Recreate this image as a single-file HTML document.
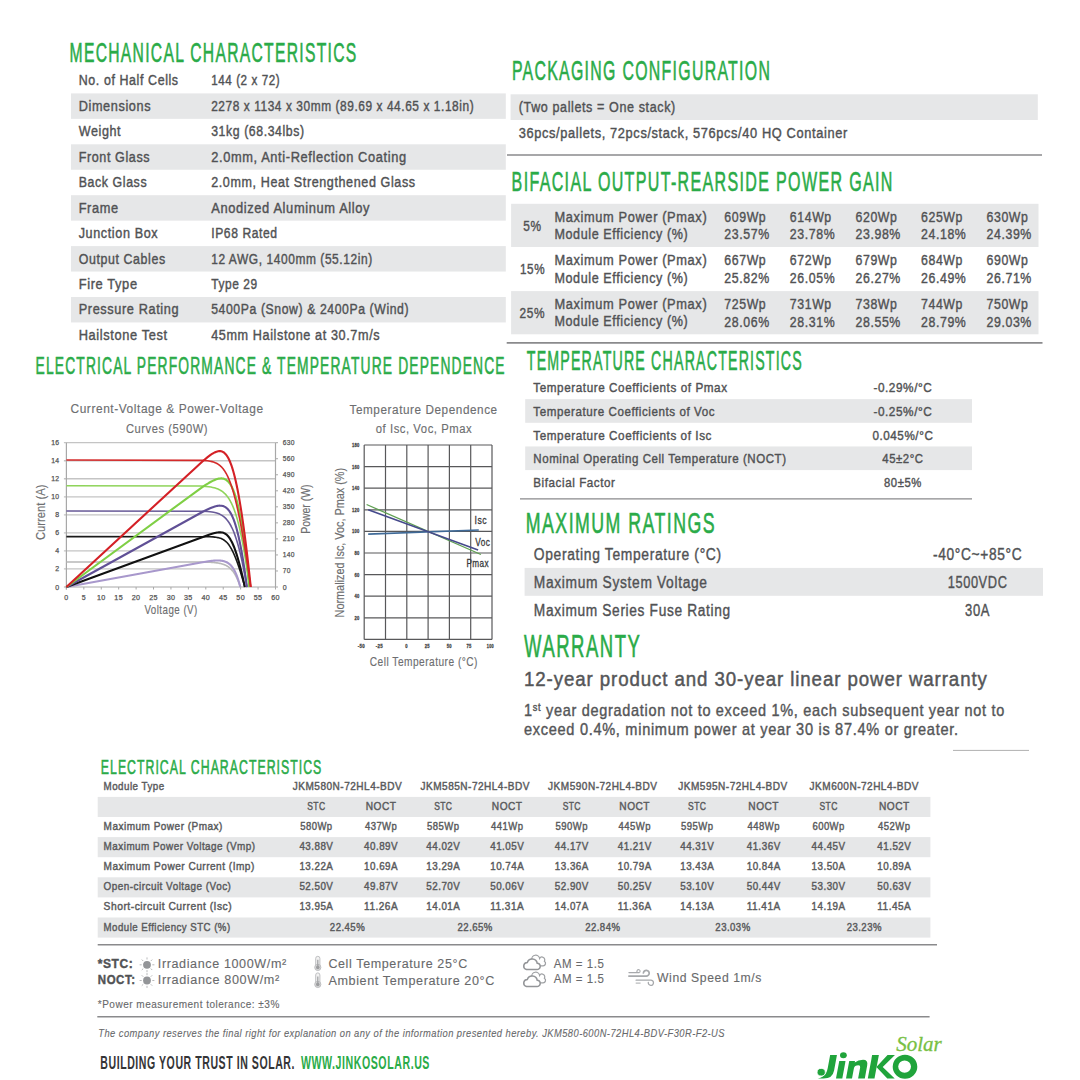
<!DOCTYPE html>
<html><head><meta charset="utf-8"><style>
html,body{margin:0;padding:0;background:#fff;width:1080px;height:1080px;overflow:hidden}
svg{display:block;font-family:"Liberation Sans",sans-serif}
</style></head><body>
<svg width="1080" height="1080" viewBox="0 0 1080 1080">
<text x="69.60" y="61.50" font-size="27.33" fill="#2aab48" stroke="#2aab48" stroke-width="0.6" letter-spacing="2.256" textLength="287.90" lengthAdjust="spacingAndGlyphs">MECHANICAL CHARACTERISTICS</text>
<text x="78.70" y="85.35" font-size="13.81" fill="#515254" stroke="#515254" stroke-width="0.4" letter-spacing="0.67" textLength="100.00" lengthAdjust="spacingAndGlyphs">No. of Half Cells</text>
<text x="211.20" y="85.35" font-size="13.81" fill="#515254" stroke="#515254" stroke-width="0.4" letter-spacing="0.67" textLength="69.00" lengthAdjust="spacingAndGlyphs">144 (2 x 72)</text>
<rect x="71.00" y="93.40" width="434.80" height="25.45" fill="#e6e7e8"/>
<text x="78.70" y="110.80" font-size="13.81" fill="#515254" stroke="#515254" stroke-width="0.4" letter-spacing="0.67" textLength="72.50" lengthAdjust="spacingAndGlyphs">Dimensions</text>
<text x="211.20" y="110.80" font-size="13.81" fill="#515254" stroke="#515254" stroke-width="0.4" letter-spacing="0.67" textLength="263.00" lengthAdjust="spacingAndGlyphs">2278 x 1134 x 30mm (89.69 x 44.65 x 1.18in)</text>
<text x="78.70" y="136.25" font-size="13.81" fill="#515254" stroke="#515254" stroke-width="0.4" letter-spacing="0.67" textLength="42.50" lengthAdjust="spacingAndGlyphs">Weight</text>
<text x="211.20" y="136.25" font-size="13.81" fill="#515254" stroke="#515254" stroke-width="0.4" letter-spacing="0.67" textLength="93.50" lengthAdjust="spacingAndGlyphs">31kg (68.34lbs)</text>
<rect x="71.00" y="144.30" width="434.80" height="25.45" fill="#e6e7e8"/>
<text x="78.70" y="161.70" font-size="13.81" fill="#515254" stroke="#515254" stroke-width="0.4" letter-spacing="0.67" textLength="71.50" lengthAdjust="spacingAndGlyphs">Front Glass</text>
<text x="211.20" y="161.70" font-size="13.81" fill="#515254" stroke="#515254" stroke-width="0.4" letter-spacing="0.67" textLength="195.50" lengthAdjust="spacingAndGlyphs">2.0mm, Anti-Reflection Coating</text>
<text x="78.70" y="187.15" font-size="13.81" fill="#515254" stroke="#515254" stroke-width="0.4" letter-spacing="0.67" textLength="68.50" lengthAdjust="spacingAndGlyphs">Back Glass</text>
<text x="211.20" y="187.15" font-size="13.81" fill="#515254" stroke="#515254" stroke-width="0.4" letter-spacing="0.67" textLength="204.50" lengthAdjust="spacingAndGlyphs">2.0mm, Heat Strengthened Glass</text>
<rect x="71.00" y="195.20" width="434.80" height="25.45" fill="#e6e7e8"/>
<text x="78.70" y="212.60" font-size="13.81" fill="#515254" stroke="#515254" stroke-width="0.4" letter-spacing="0.67" textLength="40.00" lengthAdjust="spacingAndGlyphs">Frame</text>
<text x="211.20" y="212.60" font-size="13.81" fill="#515254" stroke="#515254" stroke-width="0.4" letter-spacing="0.67" textLength="159.00" lengthAdjust="spacingAndGlyphs">Anodized Aluminum Alloy</text>
<text x="78.70" y="238.05" font-size="13.81" fill="#515254" stroke="#515254" stroke-width="0.4" letter-spacing="0.67" textLength="79.50" lengthAdjust="spacingAndGlyphs">Junction Box</text>
<text x="211.20" y="238.05" font-size="13.81" fill="#515254" stroke="#515254" stroke-width="0.4" letter-spacing="0.67" textLength="66.50" lengthAdjust="spacingAndGlyphs">IP68 Rated</text>
<rect x="71.00" y="246.10" width="434.80" height="25.45" fill="#e6e7e8"/>
<text x="78.70" y="263.50" font-size="13.81" fill="#515254" stroke="#515254" stroke-width="0.4" letter-spacing="0.67" textLength="87.00" lengthAdjust="spacingAndGlyphs">Output Cables</text>
<text x="211.20" y="263.50" font-size="13.81" fill="#515254" stroke="#515254" stroke-width="0.4" letter-spacing="0.67" textLength="161.50" lengthAdjust="spacingAndGlyphs">12 AWG, 1400mm (55.12in)</text>
<text x="78.70" y="288.95" font-size="13.81" fill="#515254" stroke="#515254" stroke-width="0.4" letter-spacing="0.67" textLength="59.00" lengthAdjust="spacingAndGlyphs">Fire Type</text>
<text x="211.20" y="288.95" font-size="13.81" fill="#515254" stroke="#515254" stroke-width="0.4" letter-spacing="0.67" textLength="46.50" lengthAdjust="spacingAndGlyphs">Type 29</text>
<rect x="71.00" y="297.00" width="434.80" height="25.45" fill="#e6e7e8"/>
<text x="78.70" y="314.40" font-size="13.81" fill="#515254" stroke="#515254" stroke-width="0.4" letter-spacing="0.67" textLength="100.50" lengthAdjust="spacingAndGlyphs">Pressure Rating</text>
<text x="211.20" y="314.40" font-size="13.81" fill="#515254" stroke="#515254" stroke-width="0.4" letter-spacing="0.67" textLength="198.00" lengthAdjust="spacingAndGlyphs">5400Pa (Snow) &amp; 2400Pa (Wind)</text>
<text x="78.70" y="339.85" font-size="13.81" fill="#515254" stroke="#515254" stroke-width="0.4" letter-spacing="0.67" textLength="89.00" lengthAdjust="spacingAndGlyphs">Hailstone Test</text>
<text x="211.20" y="339.85" font-size="13.81" fill="#515254" stroke="#515254" stroke-width="0.4" letter-spacing="0.67" textLength="169.00" lengthAdjust="spacingAndGlyphs">45mm Hailstone at 30.7m/s</text>
<text x="511.90" y="79.80" font-size="28.34" fill="#2aab48" stroke="#2aab48" stroke-width="0.6" letter-spacing="2.34" textLength="259.30" lengthAdjust="spacingAndGlyphs">PACKAGING CONFIGURATION</text>
<rect x="510.60" y="94.30" width="527.20" height="25.70" fill="#e6e7e8"/>
<text x="518.80" y="112.30" font-size="13.81" fill="#515254" stroke="#515254" stroke-width="0.4" letter-spacing="0.67" textLength="157.00" lengthAdjust="spacingAndGlyphs">(Two pallets = One stack)</text>
<text x="518.80" y="138.30" font-size="13.81" fill="#515254" stroke="#515254" stroke-width="0.4" letter-spacing="0.67" textLength="329.00" lengthAdjust="spacingAndGlyphs">36pcs/pallets, 72pcs/stack, 576pcs/40 HQ Container</text>
<line x1="507.00" y1="155.00" x2="1042.00" y2="155.00" stroke="#8a8a8c" stroke-width="1.6"/>
<text x="511.60" y="191.10" font-size="27.47" fill="#2aab48" stroke="#2aab48" stroke-width="0.6" letter-spacing="2.2680000000000007" textLength="382.10" lengthAdjust="spacingAndGlyphs">BIFACIAL OUTPUT-REARSIDE POWER GAIN</text>
<rect x="511.10" y="203.80" width="527.40" height="43.20" fill="#e6e7e8"/>
<text x="523.30" y="230.80" font-size="14.24" fill="#515254" stroke="#515254" stroke-width="0.4" letter-spacing="0.69" textLength="18.30" lengthAdjust="spacingAndGlyphs">5%</text>
<text x="554.40" y="221.80" font-size="14.24" fill="#515254" stroke="#515254" stroke-width="0.4" letter-spacing="0.69" textLength="152.90" lengthAdjust="spacingAndGlyphs">Maximum Power (Pmax)</text>
<text x="554.40" y="238.90" font-size="14.24" fill="#515254" stroke="#515254" stroke-width="0.4" letter-spacing="0.69" textLength="134.00" lengthAdjust="spacingAndGlyphs">Module Efficiency (%)</text>
<text x="724.30" y="221.70" font-size="14.24" fill="#515254" stroke="#515254" stroke-width="0.4" letter-spacing="0.69" textLength="42.00" lengthAdjust="spacingAndGlyphs">609Wp</text>
<text x="724.30" y="239.30" font-size="14.24" fill="#515254" stroke="#515254" stroke-width="0.4" letter-spacing="0.69" textLength="45.40" lengthAdjust="spacingAndGlyphs">23.57%</text>
<text x="789.80" y="221.70" font-size="14.24" fill="#515254" stroke="#515254" stroke-width="0.4" letter-spacing="0.69" textLength="42.00" lengthAdjust="spacingAndGlyphs">614Wp</text>
<text x="789.80" y="239.30" font-size="14.24" fill="#515254" stroke="#515254" stroke-width="0.4" letter-spacing="0.69" textLength="45.40" lengthAdjust="spacingAndGlyphs">23.78%</text>
<text x="855.50" y="221.70" font-size="14.24" fill="#515254" stroke="#515254" stroke-width="0.4" letter-spacing="0.69" textLength="42.00" lengthAdjust="spacingAndGlyphs">620Wp</text>
<text x="855.50" y="239.30" font-size="14.24" fill="#515254" stroke="#515254" stroke-width="0.4" letter-spacing="0.69" textLength="45.40" lengthAdjust="spacingAndGlyphs">23.98%</text>
<text x="921.00" y="221.70" font-size="14.24" fill="#515254" stroke="#515254" stroke-width="0.4" letter-spacing="0.69" textLength="42.00" lengthAdjust="spacingAndGlyphs">625Wp</text>
<text x="921.00" y="239.30" font-size="14.24" fill="#515254" stroke="#515254" stroke-width="0.4" letter-spacing="0.69" textLength="45.40" lengthAdjust="spacingAndGlyphs">24.18%</text>
<text x="986.50" y="221.70" font-size="14.24" fill="#515254" stroke="#515254" stroke-width="0.4" letter-spacing="0.69" textLength="42.00" lengthAdjust="spacingAndGlyphs">630Wp</text>
<text x="986.50" y="239.30" font-size="14.24" fill="#515254" stroke="#515254" stroke-width="0.4" letter-spacing="0.69" textLength="45.40" lengthAdjust="spacingAndGlyphs">24.39%</text>
<text x="520.00" y="274.45" font-size="14.24" fill="#515254" stroke="#515254" stroke-width="0.4" letter-spacing="0.69" textLength="25.10" lengthAdjust="spacingAndGlyphs">15%</text>
<text x="554.40" y="265.45" font-size="14.24" fill="#515254" stroke="#515254" stroke-width="0.4" letter-spacing="0.69" textLength="152.90" lengthAdjust="spacingAndGlyphs">Maximum Power (Pmax)</text>
<text x="554.40" y="282.55" font-size="14.24" fill="#515254" stroke="#515254" stroke-width="0.4" letter-spacing="0.69" textLength="134.00" lengthAdjust="spacingAndGlyphs">Module Efficiency (%)</text>
<text x="724.30" y="265.35" font-size="14.24" fill="#515254" stroke="#515254" stroke-width="0.4" letter-spacing="0.69" textLength="42.00" lengthAdjust="spacingAndGlyphs">667Wp</text>
<text x="724.30" y="282.95" font-size="14.24" fill="#515254" stroke="#515254" stroke-width="0.4" letter-spacing="0.69" textLength="45.40" lengthAdjust="spacingAndGlyphs">25.82%</text>
<text x="789.80" y="265.35" font-size="14.24" fill="#515254" stroke="#515254" stroke-width="0.4" letter-spacing="0.69" textLength="42.00" lengthAdjust="spacingAndGlyphs">672Wp</text>
<text x="789.80" y="282.95" font-size="14.24" fill="#515254" stroke="#515254" stroke-width="0.4" letter-spacing="0.69" textLength="45.40" lengthAdjust="spacingAndGlyphs">26.05%</text>
<text x="855.50" y="265.35" font-size="14.24" fill="#515254" stroke="#515254" stroke-width="0.4" letter-spacing="0.69" textLength="42.00" lengthAdjust="spacingAndGlyphs">679Wp</text>
<text x="855.50" y="282.95" font-size="14.24" fill="#515254" stroke="#515254" stroke-width="0.4" letter-spacing="0.69" textLength="45.40" lengthAdjust="spacingAndGlyphs">26.27%</text>
<text x="921.00" y="265.35" font-size="14.24" fill="#515254" stroke="#515254" stroke-width="0.4" letter-spacing="0.69" textLength="42.00" lengthAdjust="spacingAndGlyphs">684Wp</text>
<text x="921.00" y="282.95" font-size="14.24" fill="#515254" stroke="#515254" stroke-width="0.4" letter-spacing="0.69" textLength="45.40" lengthAdjust="spacingAndGlyphs">26.49%</text>
<text x="986.50" y="265.35" font-size="14.24" fill="#515254" stroke="#515254" stroke-width="0.4" letter-spacing="0.69" textLength="42.00" lengthAdjust="spacingAndGlyphs">690Wp</text>
<text x="986.50" y="282.95" font-size="14.24" fill="#515254" stroke="#515254" stroke-width="0.4" letter-spacing="0.69" textLength="45.40" lengthAdjust="spacingAndGlyphs">26.71%</text>
<rect x="511.10" y="291.10" width="527.40" height="43.20" fill="#e6e7e8"/>
<text x="519.60" y="318.10" font-size="14.24" fill="#515254" stroke="#515254" stroke-width="0.4" letter-spacing="0.69" textLength="25.50" lengthAdjust="spacingAndGlyphs">25%</text>
<text x="554.40" y="309.10" font-size="14.24" fill="#515254" stroke="#515254" stroke-width="0.4" letter-spacing="0.69" textLength="152.90" lengthAdjust="spacingAndGlyphs">Maximum Power (Pmax)</text>
<text x="554.40" y="326.20" font-size="14.24" fill="#515254" stroke="#515254" stroke-width="0.4" letter-spacing="0.69" textLength="134.00" lengthAdjust="spacingAndGlyphs">Module Efficiency (%)</text>
<text x="724.30" y="309.00" font-size="14.24" fill="#515254" stroke="#515254" stroke-width="0.4" letter-spacing="0.69" textLength="42.00" lengthAdjust="spacingAndGlyphs">725Wp</text>
<text x="724.30" y="326.60" font-size="14.24" fill="#515254" stroke="#515254" stroke-width="0.4" letter-spacing="0.69" textLength="45.40" lengthAdjust="spacingAndGlyphs">28.06%</text>
<text x="789.80" y="309.00" font-size="14.24" fill="#515254" stroke="#515254" stroke-width="0.4" letter-spacing="0.69" textLength="42.00" lengthAdjust="spacingAndGlyphs">731Wp</text>
<text x="789.80" y="326.60" font-size="14.24" fill="#515254" stroke="#515254" stroke-width="0.4" letter-spacing="0.69" textLength="45.40" lengthAdjust="spacingAndGlyphs">28.31%</text>
<text x="855.50" y="309.00" font-size="14.24" fill="#515254" stroke="#515254" stroke-width="0.4" letter-spacing="0.69" textLength="42.00" lengthAdjust="spacingAndGlyphs">738Wp</text>
<text x="855.50" y="326.60" font-size="14.24" fill="#515254" stroke="#515254" stroke-width="0.4" letter-spacing="0.69" textLength="45.40" lengthAdjust="spacingAndGlyphs">28.55%</text>
<text x="921.00" y="309.00" font-size="14.24" fill="#515254" stroke="#515254" stroke-width="0.4" letter-spacing="0.69" textLength="42.00" lengthAdjust="spacingAndGlyphs">744Wp</text>
<text x="921.00" y="326.60" font-size="14.24" fill="#515254" stroke="#515254" stroke-width="0.4" letter-spacing="0.69" textLength="45.40" lengthAdjust="spacingAndGlyphs">28.79%</text>
<text x="986.50" y="309.00" font-size="14.24" fill="#515254" stroke="#515254" stroke-width="0.4" letter-spacing="0.69" textLength="42.00" lengthAdjust="spacingAndGlyphs">750Wp</text>
<text x="986.50" y="326.60" font-size="14.24" fill="#515254" stroke="#515254" stroke-width="0.4" letter-spacing="0.69" textLength="45.40" lengthAdjust="spacingAndGlyphs">29.03%</text>
<line x1="506.70" y1="342.90" x2="1042.50" y2="342.90" stroke="#8a8a8c" stroke-width="1.6"/>
<text x="35.60" y="373.70" font-size="24.42" fill="#2aab48" stroke="#2aab48" stroke-width="0.6" letter-spacing="2.0160000000000013" textLength="470.10" lengthAdjust="spacingAndGlyphs">ELECTRICAL PERFORMANCE &amp; TEMPERATURE DEPENDENCE</text>
<text x="70.50" y="413.40" font-size="13.08" fill="#6d6e70" stroke="#6d6e70" stroke-width="0.15" letter-spacing="0.63" textLength="193.10" lengthAdjust="spacingAndGlyphs">Current-Voltage &amp; Power-Voltage</text>
<text x="126.00" y="432.70" font-size="13.08" fill="#6d6e70" stroke="#6d6e70" stroke-width="0.15" letter-spacing="0.63" textLength="82.00" lengthAdjust="spacingAndGlyphs">Curves (590W)</text>
<line x1="63.90" y1="587.00" x2="275.50" y2="587.00" stroke="#c4c4c4" stroke-width="1.3"/>
<line x1="63.90" y1="568.96" x2="275.50" y2="568.96" stroke="#c4c4c4" stroke-width="1.3"/>
<line x1="63.90" y1="550.92" x2="275.50" y2="550.92" stroke="#c4c4c4" stroke-width="1.3"/>
<line x1="63.90" y1="532.89" x2="275.50" y2="532.89" stroke="#c4c4c4" stroke-width="1.3"/>
<line x1="63.90" y1="514.85" x2="275.50" y2="514.85" stroke="#c4c4c4" stroke-width="1.3"/>
<line x1="63.90" y1="496.81" x2="275.50" y2="496.81" stroke="#c4c4c4" stroke-width="1.3"/>
<line x1="63.90" y1="478.77" x2="275.50" y2="478.77" stroke="#c4c4c4" stroke-width="1.3"/>
<line x1="63.90" y1="460.74" x2="275.50" y2="460.74" stroke="#c4c4c4" stroke-width="1.3"/>
<line x1="63.90" y1="442.70" x2="275.50" y2="442.70" stroke="#c4c4c4" stroke-width="1.3"/>
<line x1="66.40" y1="442.70" x2="66.40" y2="589.50" stroke="#a8a8a8" stroke-width="1.2"/>
<line x1="275.50" y1="442.70" x2="275.50" y2="587.00" stroke="#a8a8a8" stroke-width="1.2"/>
<line x1="275.50" y1="587.00" x2="278.00" y2="587.00" stroke="#a8a8a8" stroke-width="1.0"/>
<line x1="275.50" y1="570.97" x2="278.00" y2="570.97" stroke="#a8a8a8" stroke-width="1.0"/>
<line x1="275.50" y1="554.93" x2="278.00" y2="554.93" stroke="#a8a8a8" stroke-width="1.0"/>
<line x1="275.50" y1="538.90" x2="278.00" y2="538.90" stroke="#a8a8a8" stroke-width="1.0"/>
<line x1="275.50" y1="522.87" x2="278.00" y2="522.87" stroke="#a8a8a8" stroke-width="1.0"/>
<line x1="275.50" y1="506.83" x2="278.00" y2="506.83" stroke="#a8a8a8" stroke-width="1.0"/>
<line x1="275.50" y1="490.80" x2="278.00" y2="490.80" stroke="#a8a8a8" stroke-width="1.0"/>
<line x1="275.50" y1="474.77" x2="278.00" y2="474.77" stroke="#a8a8a8" stroke-width="1.0"/>
<line x1="275.50" y1="458.73" x2="278.00" y2="458.73" stroke="#a8a8a8" stroke-width="1.0"/>
<line x1="275.50" y1="442.70" x2="278.00" y2="442.70" stroke="#a8a8a8" stroke-width="1.0"/>
<line x1="66.40" y1="587.00" x2="66.40" y2="589.50" stroke="#a8a8a8" stroke-width="1.0"/>
<text x="66.40" y="599.90" font-size="7.12" fill="#555" text-anchor="middle" stroke="#555" stroke-width="0.25" letter-spacing="0.3" textLength="4.20" lengthAdjust="spacingAndGlyphs">0</text>
<line x1="83.83" y1="587.00" x2="83.83" y2="589.50" stroke="#a8a8a8" stroke-width="1.0"/>
<text x="83.83" y="599.90" font-size="7.12" fill="#555" text-anchor="middle" stroke="#555" stroke-width="0.25" letter-spacing="0.3" textLength="4.20" lengthAdjust="spacingAndGlyphs">5</text>
<line x1="101.25" y1="587.00" x2="101.25" y2="589.50" stroke="#a8a8a8" stroke-width="1.0"/>
<text x="101.25" y="599.90" font-size="7.12" fill="#555" text-anchor="middle" stroke="#555" stroke-width="0.25" letter-spacing="0.3" textLength="8.60" lengthAdjust="spacingAndGlyphs">10</text>
<line x1="118.68" y1="587.00" x2="118.68" y2="589.50" stroke="#a8a8a8" stroke-width="1.0"/>
<text x="118.68" y="599.90" font-size="7.12" fill="#555" text-anchor="middle" stroke="#555" stroke-width="0.25" letter-spacing="0.3" textLength="8.60" lengthAdjust="spacingAndGlyphs">15</text>
<line x1="136.10" y1="587.00" x2="136.10" y2="589.50" stroke="#a8a8a8" stroke-width="1.0"/>
<text x="136.10" y="599.90" font-size="7.12" fill="#555" text-anchor="middle" stroke="#555" stroke-width="0.25" letter-spacing="0.3" textLength="8.60" lengthAdjust="spacingAndGlyphs">20</text>
<line x1="153.53" y1="587.00" x2="153.53" y2="589.50" stroke="#a8a8a8" stroke-width="1.0"/>
<text x="153.53" y="599.90" font-size="7.12" fill="#555" text-anchor="middle" stroke="#555" stroke-width="0.25" letter-spacing="0.3" textLength="8.60" lengthAdjust="spacingAndGlyphs">25</text>
<line x1="170.95" y1="587.00" x2="170.95" y2="589.50" stroke="#a8a8a8" stroke-width="1.0"/>
<text x="170.95" y="599.90" font-size="7.12" fill="#555" text-anchor="middle" stroke="#555" stroke-width="0.25" letter-spacing="0.3" textLength="8.60" lengthAdjust="spacingAndGlyphs">30</text>
<line x1="188.38" y1="587.00" x2="188.38" y2="589.50" stroke="#a8a8a8" stroke-width="1.0"/>
<text x="188.38" y="599.90" font-size="7.12" fill="#555" text-anchor="middle" stroke="#555" stroke-width="0.25" letter-spacing="0.3" textLength="8.60" lengthAdjust="spacingAndGlyphs">35</text>
<line x1="205.80" y1="587.00" x2="205.80" y2="589.50" stroke="#a8a8a8" stroke-width="1.0"/>
<text x="205.80" y="599.90" font-size="7.12" fill="#555" text-anchor="middle" stroke="#555" stroke-width="0.25" letter-spacing="0.3" textLength="8.60" lengthAdjust="spacingAndGlyphs">40</text>
<line x1="223.22" y1="587.00" x2="223.22" y2="589.50" stroke="#a8a8a8" stroke-width="1.0"/>
<text x="223.22" y="599.90" font-size="7.12" fill="#555" text-anchor="middle" stroke="#555" stroke-width="0.25" letter-spacing="0.3" textLength="8.60" lengthAdjust="spacingAndGlyphs">45</text>
<line x1="240.65" y1="587.00" x2="240.65" y2="589.50" stroke="#a8a8a8" stroke-width="1.0"/>
<text x="240.65" y="599.90" font-size="7.12" fill="#555" text-anchor="middle" stroke="#555" stroke-width="0.25" letter-spacing="0.3" textLength="8.60" lengthAdjust="spacingAndGlyphs">50</text>
<line x1="258.07" y1="587.00" x2="258.07" y2="589.50" stroke="#a8a8a8" stroke-width="1.0"/>
<text x="258.07" y="599.90" font-size="7.12" fill="#555" text-anchor="middle" stroke="#555" stroke-width="0.25" letter-spacing="0.3" textLength="8.60" lengthAdjust="spacingAndGlyphs">55</text>
<line x1="275.50" y1="587.00" x2="275.50" y2="589.50" stroke="#a8a8a8" stroke-width="1.0"/>
<text x="275.50" y="599.90" font-size="7.12" fill="#555" text-anchor="middle" stroke="#555" stroke-width="0.25" letter-spacing="0.3" textLength="8.60" lengthAdjust="spacingAndGlyphs">60</text>
<text x="59.40" y="589.50" font-size="7.12" fill="#555" text-anchor="end" stroke="#555" stroke-width="0.25" letter-spacing="0.3" textLength="4.20" lengthAdjust="spacingAndGlyphs">0</text>
<text x="59.40" y="571.46" font-size="7.12" fill="#555" text-anchor="end" stroke="#555" stroke-width="0.25" letter-spacing="0.3" textLength="4.20" lengthAdjust="spacingAndGlyphs">2</text>
<text x="59.40" y="553.42" font-size="7.12" fill="#555" text-anchor="end" stroke="#555" stroke-width="0.25" letter-spacing="0.3" textLength="4.20" lengthAdjust="spacingAndGlyphs">4</text>
<text x="59.40" y="535.39" font-size="7.12" fill="#555" text-anchor="end" stroke="#555" stroke-width="0.25" letter-spacing="0.3" textLength="4.20" lengthAdjust="spacingAndGlyphs">6</text>
<text x="59.40" y="517.35" font-size="7.12" fill="#555" text-anchor="end" stroke="#555" stroke-width="0.25" letter-spacing="0.3" textLength="4.20" lengthAdjust="spacingAndGlyphs">8</text>
<text x="59.40" y="499.31" font-size="7.12" fill="#555" text-anchor="end" stroke="#555" stroke-width="0.25" letter-spacing="0.3" textLength="8.20" lengthAdjust="spacingAndGlyphs">10</text>
<text x="59.40" y="481.27" font-size="7.12" fill="#555" text-anchor="end" stroke="#555" stroke-width="0.25" letter-spacing="0.3" textLength="8.20" lengthAdjust="spacingAndGlyphs">12</text>
<text x="59.40" y="463.24" font-size="7.12" fill="#555" text-anchor="end" stroke="#555" stroke-width="0.25" letter-spacing="0.3" textLength="8.20" lengthAdjust="spacingAndGlyphs">14</text>
<text x="59.40" y="445.20" font-size="7.12" fill="#555" text-anchor="end" stroke="#555" stroke-width="0.25" letter-spacing="0.3" textLength="8.20" lengthAdjust="spacingAndGlyphs">16</text>
<text x="282.80" y="589.50" font-size="7.12" fill="#555" stroke="#555" stroke-width="0.25" letter-spacing="0.3" textLength="4.20" lengthAdjust="spacingAndGlyphs">0</text>
<text x="282.80" y="573.47" font-size="7.12" fill="#555" stroke="#555" stroke-width="0.25" letter-spacing="0.3" textLength="8.00" lengthAdjust="spacingAndGlyphs">70</text>
<text x="282.80" y="557.43" font-size="7.12" fill="#555" stroke="#555" stroke-width="0.25" letter-spacing="0.3" textLength="12.00" lengthAdjust="spacingAndGlyphs">140</text>
<text x="282.80" y="541.40" font-size="7.12" fill="#555" stroke="#555" stroke-width="0.25" letter-spacing="0.3" textLength="12.00" lengthAdjust="spacingAndGlyphs">210</text>
<text x="282.80" y="525.37" font-size="7.12" fill="#555" stroke="#555" stroke-width="0.25" letter-spacing="0.3" textLength="12.00" lengthAdjust="spacingAndGlyphs">280</text>
<text x="282.80" y="509.33" font-size="7.12" fill="#555" stroke="#555" stroke-width="0.25" letter-spacing="0.3" textLength="12.00" lengthAdjust="spacingAndGlyphs">350</text>
<text x="282.80" y="493.30" font-size="7.12" fill="#555" stroke="#555" stroke-width="0.25" letter-spacing="0.3" textLength="12.00" lengthAdjust="spacingAndGlyphs">420</text>
<text x="282.80" y="477.27" font-size="7.12" fill="#555" stroke="#555" stroke-width="0.25" letter-spacing="0.3" textLength="12.00" lengthAdjust="spacingAndGlyphs">490</text>
<text x="282.80" y="461.23" font-size="7.12" fill="#555" stroke="#555" stroke-width="0.25" letter-spacing="0.3" textLength="12.00" lengthAdjust="spacingAndGlyphs">560</text>
<text x="282.80" y="445.20" font-size="7.12" fill="#555" stroke="#555" stroke-width="0.25" letter-spacing="0.3" textLength="12.00" lengthAdjust="spacingAndGlyphs">630</text>
<text x="144.40" y="613.60" font-size="12.35" fill="#6d6e70" stroke="#6d6e70" stroke-width="0.15" letter-spacing="0.6" textLength="53.40" lengthAdjust="spacingAndGlyphs">Voltage (V)</text>
<text transform="translate(45.2,512.2) rotate(-90)" font-size="12.35" fill="#6d6e70" stroke="#6d6e70" stroke-width="0.15" text-anchor="middle" textLength="55.6" lengthAdjust="spacingAndGlyphs">Current (A)</text>
<text transform="translate(310.2,509.1) rotate(-90)" font-size="12.35" fill="#6d6e70" stroke="#6d6e70" stroke-width="0.15" text-anchor="middle" textLength="49.2" lengthAdjust="spacingAndGlyphs">Power (W)</text>
<path d="M66.40,561.93 L201.07,562.01 L205.66,562.10 L208.35,562.18 L210.26,562.26 L211.74,562.35 L212.95,562.43 L213.98,562.51 L214.87,562.60 L215.65,562.68 L216.99,562.85 L218.11,563.01 L219.07,563.18 L219.90,563.35 L220.65,563.52 L221.32,563.68 L222.22,563.93 L223.02,564.18 L223.73,564.44 L224.38,564.69 L224.97,564.94 L225.68,565.27 L226.33,565.61 L226.93,565.94 L227.48,566.27 L227.99,566.61 L228.47,566.94 L229.02,567.36 L229.54,567.78 L230.02,568.20 L230.47,568.61 L230.90,569.03 L231.30,569.45 L231.68,569.87 L232.12,570.37 L232.53,570.87 L232.92,571.37 L233.29,571.87 L233.65,572.37 L233.99,572.88 L234.31,573.38 L234.62,573.88 L234.93,574.38 L235.26,574.97 L235.59,575.55 L235.90,576.14 L236.20,576.72 L236.50,577.31 L236.78,577.89 L237.05,578.48 L237.31,579.06 L237.57,579.65 L237.82,580.23 L238.06,580.82 L238.30,581.40 L238.53,581.99 L238.75,582.57 L238.97,583.16 L239.22,583.82 L239.46,584.49 L239.69,585.16 L239.92,585.83 L240.14,586.50 L240.30,587.00" fill="none" stroke="#b8b8b8" stroke-width="1.6" stroke-linejoin="round"/>
<path d="M66.40,587.00 L201.07,562.48 L205.66,561.72 L208.35,561.32 L210.26,561.07 L211.74,560.89 L212.95,560.76 L213.98,560.66 L214.87,560.60 L215.65,560.55 L216.99,560.49 L218.11,560.48 L219.07,560.50 L219.90,560.54 L220.65,560.60 L221.64,560.72 L222.50,560.86 L223.26,561.01 L223.95,561.19 L224.58,561.37 L225.33,561.64 L226.02,561.92 L226.64,562.21 L227.21,562.52 L227.74,562.83 L228.23,563.15 L228.80,563.56 L229.33,563.98 L229.83,564.41 L230.29,564.84 L230.73,565.28 L231.14,565.73 L231.53,566.18 L231.90,566.64 L232.26,567.10 L232.59,567.57 L232.98,568.13 L233.35,568.70 L233.70,569.27 L234.04,569.85 L234.36,570.43 L234.68,571.01 L234.98,571.60 L235.26,572.19 L235.54,572.78 L235.81,573.38 L236.08,573.98 L236.33,574.58 L236.58,575.18 L236.82,575.79 L237.05,576.40 L237.28,577.01 L237.50,577.62 L237.71,578.24 L237.92,578.85 L238.13,579.47 L238.33,580.09 L238.53,580.71 L238.72,581.33 L238.91,581.96 L239.10,582.58 L239.28,583.21 L239.46,583.84 L239.63,584.47 L239.80,585.10 L239.97,585.73 L240.17,586.47 L240.30,587.00" fill="none" stroke="#a898cc" stroke-width="2.1" stroke-linejoin="round"/>
<path d="M66.40,536.59 L209.69,536.75 L212.86,536.92 L214.73,537.09 L216.06,537.26 L217.11,537.43 L217.96,537.59 L218.69,537.76 L219.33,537.93 L220.40,538.27 L221.29,538.60 L222.05,538.94 L222.72,539.27 L223.31,539.61 L223.85,539.95 L224.35,540.28 L225.02,540.79 L225.63,541.29 L226.18,541.79 L226.69,542.30 L227.17,542.80 L227.62,543.31 L228.04,543.81 L228.44,544.32 L228.82,544.82 L229.18,545.32 L229.53,545.83 L229.86,546.33 L230.18,546.84 L230.49,547.34 L230.79,547.84 L231.18,548.52 L231.55,549.19 L231.91,549.86 L232.26,550.53 L232.60,551.21 L232.93,551.88 L233.25,552.55 L233.56,553.22 L233.86,553.89 L234.16,554.57 L234.45,555.24 L234.73,555.91 L235.01,556.58 L235.29,557.26 L235.56,557.93 L235.82,558.60 L236.08,559.27 L236.34,559.94 L236.59,560.62 L236.84,561.29 L237.09,561.96 L237.33,562.63 L237.57,563.31 L237.81,563.98 L238.04,564.65 L238.27,565.32 L238.50,565.99 L238.73,566.67 L238.95,567.34 L239.18,568.01 L239.40,568.68 L239.61,569.35 L239.83,570.03 L240.05,570.70 L240.26,571.37 L240.47,572.04 L240.68,572.72 L240.89,573.39 L241.09,574.06 L241.30,574.73 L241.50,575.40 L241.70,576.08 L241.90,576.75 L242.10,577.42 L242.30,578.09 L242.50,578.77 L242.70,579.44 L242.89,580.11 L243.08,580.78 L243.28,581.45 L243.47,582.13 L243.66,582.80 L243.85,583.47 L244.04,584.14 L244.23,584.82 L244.41,585.49 L244.60,586.16 L244.79,586.83 L244.83,587.00" fill="none" stroke="#1a1a1a" stroke-width="1.6" stroke-linejoin="round"/>
<path d="M66.40,587.00 L209.69,534.53 L212.86,533.55 L214.73,533.05 L216.06,532.75 L217.11,532.55 L217.96,532.43 L218.69,532.35 L219.89,532.30 L220.87,532.33 L221.68,532.42 L222.39,532.55 L223.31,532.81 L224.11,533.12 L224.80,533.46 L225.43,533.83 L226.00,534.23 L226.53,534.64 L227.01,535.07 L227.47,535.52 L227.90,535.97 L228.31,536.44 L228.69,536.91 L229.06,537.40 L229.41,537.89 L229.75,538.39 L230.08,538.89 L230.39,539.40 L230.69,539.92 L230.99,540.44 L231.27,540.96 L231.55,541.49 L231.82,542.03 L232.09,542.56 L232.43,543.28 L232.76,544.01 L233.09,544.74 L233.40,545.48 L233.71,546.23 L234.01,546.97 L234.30,547.73 L234.59,548.48 L234.87,549.24 L235.15,550.01 L235.42,550.78 L235.69,551.55 L235.95,552.32 L236.21,553.10 L236.47,553.88 L236.72,554.67 L236.96,555.46 L237.21,556.25 L237.45,557.04 L237.69,557.84 L237.92,558.64 L238.16,559.45 L238.39,560.25 L238.62,561.06 L238.84,561.87 L239.06,562.68 L239.29,563.50 L239.51,564.32 L239.72,565.14 L239.94,565.96 L240.15,566.79 L240.36,567.61 L240.57,568.44 L240.78,569.27 L240.99,570.11 L241.20,570.95 L241.40,571.78 L241.60,572.62 L241.80,573.47 L242.00,574.31 L242.20,575.16 L242.40,576.01 L242.60,576.86 L242.79,577.71 L242.99,578.57 L243.18,579.42 L243.37,580.28 L243.56,581.14 L243.76,582.00 L243.94,582.87 L244.13,583.74 L244.32,584.60 L244.51,585.47 L244.69,586.34 L244.83,587.00" fill="none" stroke="#111111" stroke-width="2.1" stroke-linejoin="round"/>
<path d="M66.40,511.06 L202.79,511.32 L207.41,511.57 L210.11,511.82 L212.04,512.07 L213.54,512.33 L214.76,512.58 L215.81,512.83 L216.71,513.09 L217.51,513.34 L218.23,513.59 L218.88,513.85 L219.48,514.10 L220.03,514.35 L221.02,514.86 L221.89,515.37 L222.67,515.87 L223.38,516.38 L224.02,516.88 L224.62,517.39 L225.17,517.90 L225.69,518.40 L226.17,518.91 L226.63,519.42 L227.06,519.92 L227.47,520.43 L227.86,520.93 L228.23,521.44 L228.59,521.95 L228.94,522.45 L229.27,522.96 L229.59,523.47 L229.89,523.97 L230.19,524.48 L230.62,525.24 L231.03,526.00 L231.42,526.76 L231.80,527.52 L232.16,528.27 L232.51,529.03 L232.85,529.79 L233.17,530.55 L233.49,531.31 L233.80,532.07 L234.10,532.83 L234.39,533.59 L234.67,534.35 L234.95,535.11 L235.22,535.87 L235.48,536.63 L235.74,537.39 L235.99,538.15 L236.24,538.91 L236.48,539.67 L236.72,540.42 L236.95,541.18 L237.18,541.94 L237.40,542.70 L237.62,543.46 L237.84,544.22 L238.05,544.98 L238.27,545.74 L238.47,546.50 L238.68,547.26 L238.88,548.02 L239.08,548.78 L239.27,549.54 L239.47,550.30 L239.66,551.06 L239.84,551.82 L240.03,552.57 L240.21,553.33 L240.40,554.09 L240.58,554.85 L240.75,555.61 L240.93,556.37 L241.10,557.13 L241.28,557.89 L241.45,558.65 L241.61,559.41 L241.78,560.17 L241.95,560.93 L242.11,561.69 L242.27,562.45 L242.43,563.21 L242.59,563.97 L242.75,564.72 L242.91,565.48 L243.06,566.24 L243.22,567.00 L243.37,567.76 L243.52,568.52 L243.67,569.28 L243.82,570.04 L243.97,570.80 L244.12,571.56 L244.27,572.32 L244.41,573.08 L244.56,573.84 L244.70,574.60 L244.84,575.36 L244.98,576.12 L245.12,576.87 L245.26,577.63 L245.40,578.39 L245.54,579.15 L245.68,579.91 L245.81,580.67 L245.95,581.43 L246.09,582.19 L246.22,582.95 L246.35,583.71 L246.49,584.47 L246.62,585.23 L246.75,585.99 L246.88,586.75 L246.92,587.00" fill="none" stroke="#685a98" stroke-width="1.6" stroke-linejoin="round"/>
<path d="M66.40,587.00 L202.79,511.77 L207.41,509.49 L210.11,508.27 L212.04,507.48 L213.54,506.93 L214.76,506.54 L215.81,506.25 L216.71,506.04 L217.51,505.88 L218.23,505.78 L219.48,505.67 L220.55,505.68 L221.47,505.76 L222.29,505.90 L223.03,506.10 L223.71,506.33 L224.33,506.60 L224.90,506.89 L225.43,507.21 L225.93,507.54 L226.40,507.90 L226.85,508.27 L227.27,508.66 L227.67,509.06 L228.23,509.68 L228.77,510.33 L229.27,510.99 L229.74,511.67 L230.19,512.37 L230.62,513.09 L231.03,513.81 L231.42,514.55 L231.80,515.30 L232.16,516.06 L232.51,516.83 L232.85,517.61 L233.17,518.40 L233.49,519.19 L233.80,519.99 L234.10,520.80 L234.39,521.62 L234.67,522.44 L234.95,523.26 L235.22,524.10 L235.48,524.93 L235.74,525.78 L235.99,526.62 L236.24,527.47 L236.48,528.33 L236.72,529.19 L236.95,530.06 L237.18,530.93 L237.40,531.80 L237.62,532.67 L237.84,533.55 L238.05,534.44 L238.27,535.32 L238.47,536.21 L238.68,537.11 L238.88,538.00 L239.08,538.90 L239.27,539.80 L239.47,540.71 L239.66,541.62 L239.84,542.53 L240.03,543.44 L240.21,544.36 L240.40,545.27 L240.58,546.20 L240.75,547.12 L240.93,548.04 L241.10,548.97 L241.28,549.90 L241.45,550.84 L241.61,551.77 L241.78,552.71 L241.95,553.65 L242.11,554.59 L242.27,555.53 L242.43,556.48 L242.59,557.42 L242.75,558.37 L242.91,559.32 L243.06,560.28 L243.22,561.23 L243.37,562.19 L243.52,563.15 L243.67,564.11 L243.82,565.07 L243.97,566.04 L244.12,567.00 L244.27,567.97 L244.41,568.94 L244.56,569.91 L244.70,570.88 L244.84,571.86 L244.98,572.83 L245.12,573.81 L245.26,574.79 L245.40,575.77 L245.54,576.76 L245.68,577.74 L245.81,578.73 L245.95,579.71 L246.09,580.70 L246.22,581.69 L246.35,582.68 L246.49,583.68 L246.62,584.67 L246.75,585.67 L246.88,586.67 L246.92,587.00" fill="none" stroke="#605096" stroke-width="2.1" stroke-linejoin="round"/>
<path d="M66.40,485.72 L200.25,486.06 L205.58,486.39 L208.71,486.73 L210.93,487.07 L212.66,487.41 L214.08,487.75 L215.28,488.08 L216.32,488.42 L217.24,488.76 L218.06,489.10 L218.81,489.43 L219.50,489.77 L220.13,490.11 L220.72,490.45 L221.26,490.78 L221.78,491.12 L222.26,491.46 L223.15,492.13 L223.95,492.81 L224.68,493.48 L225.36,494.16 L225.99,494.83 L226.57,495.51 L227.12,496.19 L227.63,496.86 L228.12,497.54 L228.58,498.21 L229.02,498.89 L229.44,499.56 L229.84,500.24 L230.23,500.91 L230.60,501.59 L230.95,502.26 L231.29,502.94 L231.63,503.61 L231.95,504.29 L232.25,504.96 L232.56,505.64 L232.85,506.31 L233.13,506.99 L233.41,507.66 L233.67,508.34 L233.94,509.01 L234.19,509.69 L234.44,510.36 L234.68,511.04 L234.92,511.71 L235.15,512.39 L235.38,513.07 L235.60,513.74 L235.82,514.42 L236.04,515.09 L236.25,515.77 L236.45,516.44 L236.66,517.12 L236.86,517.79 L237.05,518.47 L237.24,519.14 L237.43,519.82 L237.62,520.49 L237.80,521.17 L237.98,521.84 L238.16,522.52 L238.34,523.19 L238.51,523.87 L238.68,524.54 L238.85,525.22 L239.01,525.89 L239.18,526.57 L239.34,527.24 L239.50,527.92 L239.66,528.59 L239.81,529.27 L239.97,529.95 L240.12,530.62 L240.27,531.30 L240.42,531.97 L240.57,532.65 L240.71,533.32 L240.86,534.00 L241.00,534.67 L241.14,535.35 L241.28,536.02 L241.42,536.70 L241.55,537.37 L241.69,538.05 L241.82,538.72 L241.96,539.40 L242.09,540.07 L242.22,540.75 L242.35,541.42 L242.48,542.10 L242.60,542.77 L242.73,543.45 L242.86,544.12 L243.04,545.14 L243.22,546.15 L243.41,547.16 L243.59,548.18 L243.76,549.19 L243.94,550.20 L244.11,551.21 L244.28,552.23 L244.45,553.24 L244.62,554.25 L244.79,555.27 L244.95,556.28 L245.12,557.29 L245.28,558.30 L245.44,559.32 L245.60,560.33 L245.75,561.34 L245.91,562.36 L246.07,563.37 L246.22,564.38 L246.37,565.39 L246.52,566.41 L246.67,567.42 L246.82,568.43 L246.97,569.44 L247.11,570.46 L247.26,571.47 L247.40,572.48 L247.55,573.50 L247.69,574.51 L247.83,575.52 L247.97,576.53 L248.11,577.55 L248.25,578.56 L248.38,579.57 L248.52,580.59 L248.65,581.60 L248.79,582.61 L248.92,583.62 L249.06,584.64 L249.19,585.65 L249.32,586.66 L249.36,587.00" fill="none" stroke="#8fd45a" stroke-width="1.6" stroke-linejoin="round"/>
<path d="M66.40,587.00 L200.25,488.54 L205.58,484.96 L208.71,483.02 L210.93,481.75 L212.66,480.85 L214.08,480.18 L215.28,479.68 L216.32,479.30 L217.24,479.01 L218.06,478.79 L218.81,478.63 L220.13,478.45 L221.26,478.41 L222.26,478.48 L223.15,478.63 L223.95,478.85 L224.68,479.13 L225.36,479.45 L225.99,479.81 L226.57,480.21 L227.12,480.64 L227.63,481.09 L228.12,481.56 L228.58,482.06 L229.02,482.58 L229.44,483.11 L229.84,483.66 L230.23,484.22 L230.60,484.80 L230.95,485.39 L231.29,485.98 L231.63,486.60 L231.95,487.22 L232.25,487.84 L232.56,488.48 L232.85,489.13 L233.13,489.78 L233.41,490.44 L233.67,491.11 L233.94,491.79 L234.19,492.47 L234.44,493.15 L234.68,493.85 L234.92,494.54 L235.15,495.25 L235.38,495.95 L235.60,496.67 L235.82,497.38 L236.04,498.10 L236.25,498.83 L236.45,499.56 L236.66,500.29 L236.86,501.03 L237.05,501.77 L237.24,502.52 L237.43,503.26 L237.62,504.01 L237.80,504.77 L237.98,505.53 L238.16,506.29 L238.34,507.05 L238.51,507.82 L238.68,508.59 L238.85,509.36 L239.01,510.13 L239.18,510.91 L239.34,511.69 L239.50,512.47 L239.66,513.26 L239.81,514.04 L239.97,514.83 L240.12,515.62 L240.27,516.42 L240.42,517.21 L240.57,518.01 L240.71,518.81 L240.86,519.61 L241.00,520.42 L241.14,521.22 L241.28,522.03 L241.42,522.84 L241.55,523.65 L241.69,524.47 L241.82,525.28 L241.96,526.10 L242.09,526.92 L242.22,527.74 L242.35,528.56 L242.48,529.39 L242.60,530.21 L242.73,531.04 L242.86,531.87 L242.98,532.70 L243.10,533.53 L243.22,534.36 L243.35,535.20 L243.47,536.03 L243.59,536.87 L243.70,537.71 L243.82,538.55 L243.94,539.39 L244.05,540.23 L244.17,541.08 L244.28,541.92 L244.40,542.77 L244.51,543.62 L244.62,544.47 L244.73,545.32 L244.84,546.17 L244.95,547.02 L245.06,547.88 L245.17,548.74 L245.28,549.59 L245.39,550.45 L245.49,551.31 L245.60,552.17 L245.70,553.03 L245.81,553.90 L245.91,554.76 L246.01,555.63 L246.12,556.49 L246.22,557.36 L246.32,558.23 L246.42,559.10 L246.52,559.97 L246.62,560.84 L246.72,561.71 L246.82,562.59 L246.92,563.46 L247.02,564.34 L247.11,565.21 L247.21,566.09 L247.31,566.97 L247.40,567.85 L247.50,568.73 L247.59,569.61 L247.69,570.50 L247.78,571.38 L247.87,572.27 L247.97,573.15 L248.06,574.04 L248.15,574.93 L248.25,575.82 L248.34,576.70 L248.43,577.60 L248.52,578.49 L248.61,579.38 L248.70,580.27 L248.79,581.17 L248.88,582.06 L248.97,582.96 L249.06,583.85 L249.14,584.75 L249.23,585.65 L249.32,586.55 L249.36,587.00" fill="none" stroke="#7fcf45" stroke-width="2.1" stroke-linejoin="round"/>
<path d="M66.40,459.93 L203.23,460.35 L207.62,460.77 L210.20,461.20 L212.05,461.62 L213.48,462.04 L214.67,462.47 L215.67,462.89 L216.55,463.31 L217.33,463.74 L218.03,464.16 L218.67,464.59 L219.25,465.01 L219.79,465.43 L220.30,465.86 L220.77,466.28 L221.21,466.70 L221.63,467.13 L222.03,467.55 L222.41,467.97 L223.12,468.82 L223.76,469.67 L224.37,470.52 L224.93,471.36 L225.45,472.21 L225.95,473.06 L226.42,473.90 L226.87,474.75 L227.30,475.60 L227.71,476.45 L228.10,477.29 L228.47,478.14 L228.84,478.99 L229.19,479.83 L229.53,480.68 L229.86,481.53 L230.18,482.38 L230.49,483.22 L230.79,484.07 L231.09,484.92 L231.38,485.76 L231.66,486.61 L231.93,487.46 L232.20,488.31 L232.46,489.15 L232.72,490.00 L232.97,490.85 L233.22,491.69 L233.47,492.54 L233.70,493.39 L233.94,494.24 L234.17,495.08 L234.40,495.93 L234.62,496.78 L234.85,497.62 L235.06,498.47 L235.28,499.32 L235.49,500.17 L235.70,501.01 L235.91,501.86 L236.11,502.71 L236.31,503.55 L236.51,504.40 L236.71,505.25 L236.90,506.10 L237.10,506.94 L237.29,507.79 L237.47,508.64 L237.66,509.48 L237.85,510.33 L238.03,511.18 L238.21,512.03 L238.39,512.87 L238.57,513.72 L238.74,514.57 L238.92,515.41 L239.09,516.26 L239.27,517.11 L239.44,517.96 L239.61,518.80 L239.77,519.65 L239.94,520.50 L240.11,521.35 L240.27,522.19 L240.43,523.04 L240.60,523.89 L240.76,524.73 L240.92,525.58 L241.08,526.43 L241.24,527.28 L241.39,528.12 L241.55,528.97 L241.70,529.82 L241.86,530.66 L242.01,531.51 L242.16,532.36 L242.31,533.21 L242.47,534.05 L242.61,534.90 L242.76,535.75 L242.91,536.59 L243.06,537.44 L243.21,538.29 L243.35,539.14 L243.50,539.98 L243.64,540.83 L243.79,541.68 L243.93,542.52 L244.07,543.37 L244.21,544.22 L244.36,545.07 L244.50,545.91 L244.64,546.76 L244.78,547.61 L244.91,548.45 L245.05,549.30 L245.19,550.15 L245.33,551.00 L245.46,551.84 L245.60,552.69 L245.74,553.54 L245.87,554.38 L246.01,555.23 L246.14,556.08 L246.27,556.93 L246.41,557.77 L246.54,558.62 L246.67,559.47 L246.80,560.31 L246.93,561.16 L247.07,562.01 L247.20,562.86 L247.33,563.70 L247.46,564.55 L247.58,565.40 L247.71,566.24 L247.84,567.09 L247.97,567.94 L248.10,568.79 L248.22,569.63 L248.35,570.48 L248.48,571.33 L248.60,572.17 L248.73,573.02 L248.85,573.87 L248.98,574.72 L249.10,575.56 L249.23,576.41 L249.35,577.26 L249.48,578.10 L249.60,578.95 L249.72,579.80 L249.85,580.65 L249.97,581.49 L250.09,582.34 L250.21,583.19 L250.33,584.03 L250.45,584.88 L250.58,585.73 L250.70,586.58 L250.76,587.00" fill="none" stroke="#d42a2a" stroke-width="1.6" stroke-linejoin="round"/>
<path d="M66.40,587.00 L203.23,460.71 L207.62,457.10 L210.20,455.16 L212.05,453.92 L213.48,453.06 L214.67,452.44 L215.67,451.99 L216.55,451.66 L217.33,451.43 L218.03,451.26 L219.25,451.11 L220.30,451.13 L221.21,451.28 L222.03,451.53 L222.77,451.85 L223.45,452.23 L224.07,452.67 L224.65,453.15 L225.19,453.67 L225.71,454.23 L226.19,454.81 L226.65,455.42 L227.09,456.05 L227.50,456.71 L227.90,457.38 L228.29,458.07 L228.66,458.78 L229.02,459.50 L229.36,460.24 L229.70,460.98 L230.02,461.74 L230.34,462.51 L230.64,463.29 L230.94,464.09 L231.23,464.89 L231.52,465.69 L231.79,466.51 L232.07,467.34 L232.33,468.17 L232.59,469.01 L232.85,469.85 L233.10,470.71 L233.34,471.57 L233.59,472.43 L233.82,473.30 L234.06,474.18 L234.29,475.06 L234.51,475.95 L234.74,476.84 L234.95,477.74 L235.17,478.64 L235.38,479.54 L235.60,480.46 L235.80,481.37 L236.01,482.29 L236.21,483.21 L236.41,484.14 L236.61,485.07 L236.81,486.01 L237.00,486.94 L237.19,487.89 L237.38,488.83 L237.57,489.78 L237.75,490.73 L237.94,491.69 L238.12,492.65 L238.30,493.61 L238.48,494.57 L238.66,495.54 L238.83,496.51 L239.01,497.49 L239.18,498.47 L239.35,499.45 L239.52,500.43 L239.69,501.41 L239.86,502.40 L240.02,503.39 L240.19,504.39 L240.35,505.38 L240.52,506.38 L240.68,507.38 L240.84,508.38 L241.00,509.39 L241.16,510.40 L241.31,511.41 L241.47,512.42 L241.63,513.44 L241.78,514.46 L241.93,515.48 L242.09,516.50 L242.24,517.52 L242.39,518.55 L242.54,519.58 L242.69,520.61 L242.84,521.64 L242.99,522.68 L243.13,523.72 L243.28,524.76 L243.43,525.80 L243.57,526.84 L243.71,527.89 L243.86,528.94 L244.00,529.98 L244.14,531.04 L244.28,532.09 L244.43,533.15 L244.57,534.20 L244.71,535.26 L244.85,536.32 L244.98,537.39 L245.12,538.45 L245.26,539.52 L245.40,540.59 L245.53,541.66 L245.67,542.73 L245.80,543.80 L245.94,544.88 L246.07,545.96 L246.21,547.04 L246.34,548.12 L246.47,549.20 L246.61,550.29 L246.74,551.37 L246.87,552.46 L247.00,553.55 L247.13,554.64 L247.26,555.74 L247.39,556.83 L247.52,557.93 L247.65,559.03 L247.78,560.13 L247.91,561.23 L248.03,562.33 L248.16,563.44 L248.29,564.54 L248.41,565.65 L248.54,566.76 L248.67,567.87 L248.79,568.98 L248.92,570.10 L249.04,571.21 L249.17,572.33 L249.29,573.45 L249.41,574.57 L249.54,575.69 L249.66,576.82 L249.78,577.94 L249.91,579.07 L250.03,580.20 L250.15,581.33 L250.27,582.46 L250.39,583.59 L250.52,584.73 L250.64,585.86 L250.76,587.00" fill="none" stroke="#d42026" stroke-width="2.1" stroke-linejoin="round"/>
<text x="349.50" y="413.60" font-size="13.08" fill="#6d6e70" stroke="#6d6e70" stroke-width="0.15" letter-spacing="0.63" textLength="148.20" lengthAdjust="spacingAndGlyphs">Temperature Dependence</text>
<text x="375.80" y="433.00" font-size="13.08" fill="#6d6e70" stroke="#6d6e70" stroke-width="0.15" letter-spacing="0.63" textLength="96.40" lengthAdjust="spacingAndGlyphs">of Isc, Voc, Pmax</text>
<line x1="364.20" y1="445.00" x2="364.20" y2="639.40" stroke="#58585a" stroke-width="1.2"/>
<line x1="385.50" y1="445.00" x2="385.50" y2="639.40" stroke="#58585a" stroke-width="1.2"/>
<line x1="406.80" y1="445.00" x2="406.80" y2="639.40" stroke="#58585a" stroke-width="1.2"/>
<line x1="428.10" y1="445.00" x2="428.10" y2="639.40" stroke="#58585a" stroke-width="1.2"/>
<line x1="449.40" y1="445.00" x2="449.40" y2="639.40" stroke="#58585a" stroke-width="1.2"/>
<line x1="470.70" y1="445.00" x2="470.70" y2="639.40" stroke="#58585a" stroke-width="1.2"/>
<line x1="492.00" y1="445.00" x2="492.00" y2="639.40" stroke="#58585a" stroke-width="1.2"/>
<line x1="364.20" y1="445.00" x2="492.00" y2="445.00" stroke="#58585a" stroke-width="1.2"/>
<line x1="364.20" y1="466.60" x2="492.00" y2="466.60" stroke="#58585a" stroke-width="1.2"/>
<line x1="364.20" y1="488.20" x2="492.00" y2="488.20" stroke="#58585a" stroke-width="1.2"/>
<line x1="364.20" y1="509.80" x2="492.00" y2="509.80" stroke="#58585a" stroke-width="1.2"/>
<line x1="364.20" y1="531.40" x2="492.00" y2="531.40" stroke="#58585a" stroke-width="1.2"/>
<line x1="364.20" y1="553.00" x2="492.00" y2="553.00" stroke="#58585a" stroke-width="1.2"/>
<line x1="364.20" y1="574.60" x2="492.00" y2="574.60" stroke="#58585a" stroke-width="1.2"/>
<line x1="364.20" y1="596.20" x2="492.00" y2="596.20" stroke="#58585a" stroke-width="1.2"/>
<line x1="364.20" y1="617.80" x2="492.00" y2="617.80" stroke="#58585a" stroke-width="1.2"/>
<line x1="364.20" y1="639.40" x2="492.00" y2="639.40" stroke="#58585a" stroke-width="1.2"/>
<text x="359.60" y="446.90" font-size="5.81" fill="#444" font-weight="bold" text-anchor="end" stroke="#444" stroke-width="0.3" letter-spacing="0.28" textLength="7.50" lengthAdjust="spacingAndGlyphs">180</text>
<text x="359.60" y="468.50" font-size="5.81" fill="#444" font-weight="bold" text-anchor="end" stroke="#444" stroke-width="0.3" letter-spacing="0.28" textLength="7.50" lengthAdjust="spacingAndGlyphs">160</text>
<text x="359.60" y="490.10" font-size="5.81" fill="#444" font-weight="bold" text-anchor="end" stroke="#444" stroke-width="0.3" letter-spacing="0.28" textLength="7.50" lengthAdjust="spacingAndGlyphs">140</text>
<text x="359.60" y="511.70" font-size="5.81" fill="#444" font-weight="bold" text-anchor="end" stroke="#444" stroke-width="0.3" letter-spacing="0.28" textLength="7.50" lengthAdjust="spacingAndGlyphs">120</text>
<text x="359.60" y="533.30" font-size="5.81" fill="#444" font-weight="bold" text-anchor="end" stroke="#444" stroke-width="0.3" letter-spacing="0.28" textLength="7.50" lengthAdjust="spacingAndGlyphs">100</text>
<text x="359.60" y="554.90" font-size="5.81" fill="#444" font-weight="bold" text-anchor="end" stroke="#444" stroke-width="0.3" letter-spacing="0.28" textLength="5.00" lengthAdjust="spacingAndGlyphs">80</text>
<text x="359.60" y="576.50" font-size="5.81" fill="#444" font-weight="bold" text-anchor="end" stroke="#444" stroke-width="0.3" letter-spacing="0.28" textLength="5.00" lengthAdjust="spacingAndGlyphs">60</text>
<text x="359.60" y="598.10" font-size="5.81" fill="#444" font-weight="bold" text-anchor="end" stroke="#444" stroke-width="0.3" letter-spacing="0.28" textLength="5.00" lengthAdjust="spacingAndGlyphs">40</text>
<text x="359.60" y="619.70" font-size="5.81" fill="#444" font-weight="bold" text-anchor="end" stroke="#444" stroke-width="0.3" letter-spacing="0.28" textLength="5.00" lengthAdjust="spacingAndGlyphs">20</text>
<text x="361.30" y="647.60" font-size="5.81" fill="#444" font-weight="bold" text-anchor="middle" stroke="#444" stroke-width="0.3" letter-spacing="0.28" textLength="7.00" lengthAdjust="spacingAndGlyphs">-50</text>
<text x="379.30" y="647.60" font-size="5.81" fill="#444" font-weight="bold" text-anchor="middle" stroke="#444" stroke-width="0.3" letter-spacing="0.28" textLength="7.00" lengthAdjust="spacingAndGlyphs">-25</text>
<text x="406.40" y="647.60" font-size="5.81" fill="#444" font-weight="bold" text-anchor="middle" stroke="#444" stroke-width="0.3" letter-spacing="0.28" textLength="2.50" lengthAdjust="spacingAndGlyphs">0</text>
<text x="427.20" y="647.60" font-size="5.81" fill="#444" font-weight="bold" text-anchor="middle" stroke="#444" stroke-width="0.3" letter-spacing="0.28" textLength="5.00" lengthAdjust="spacingAndGlyphs">25</text>
<text x="449.20" y="647.60" font-size="5.81" fill="#444" font-weight="bold" text-anchor="middle" stroke="#444" stroke-width="0.3" letter-spacing="0.28" textLength="5.00" lengthAdjust="spacingAndGlyphs">50</text>
<text x="468.90" y="647.60" font-size="5.81" fill="#444" font-weight="bold" text-anchor="middle" stroke="#444" stroke-width="0.3" letter-spacing="0.28" textLength="5.00" lengthAdjust="spacingAndGlyphs">75</text>
<text x="490.30" y="647.60" font-size="5.81" fill="#444" font-weight="bold" text-anchor="middle" stroke="#444" stroke-width="0.3" letter-spacing="0.28" textLength="7.00" lengthAdjust="spacingAndGlyphs">100</text>
<line x1="368.2" y1="534.1" x2="478.8" y2="530.0" stroke="#3f6a98" stroke-width="1.6"/>
<line x1="366.6" y1="504.5" x2="480.9" y2="554.5" stroke="#5fa052" stroke-width="1.3"/>
<line x1="368.2" y1="509.8" x2="478.1" y2="549.9" stroke="#464a8c" stroke-width="1.6"/>
<text x="474.60" y="524.40" font-size="10.17" fill="#3a3a3c" stroke="#3a3a3c" stroke-width="0.3" letter-spacing="0.49" textLength="12.30" lengthAdjust="spacingAndGlyphs">Isc</text>
<text x="475.30" y="545.70" font-size="10.17" fill="#3a3a3c" stroke="#3a3a3c" stroke-width="0.3" letter-spacing="0.49" textLength="15.00" lengthAdjust="spacingAndGlyphs">Voc</text>
<text x="466.50" y="567.00" font-size="10.17" fill="#3a3a3c" stroke="#3a3a3c" stroke-width="0.3" letter-spacing="0.49" textLength="22.50" lengthAdjust="spacingAndGlyphs">Pmax</text>
<text x="369.80" y="665.50" font-size="12.50" fill="#6d6e70" stroke="#6d6e70" stroke-width="0.15" letter-spacing="0.6" textLength="108.20" lengthAdjust="spacingAndGlyphs">Cell Temperature (°C)</text>
<text transform="translate(344.0,542.7) rotate(-90)" font-size="12.50" fill="#6d6e70" stroke="#6d6e70" stroke-width="0.15" text-anchor="middle" textLength="149.4" lengthAdjust="spacingAndGlyphs">Normalized Isc, Voc, Pmax (%)</text>
<text x="526.80" y="370.30" font-size="27.18" fill="#2aab48" stroke="#2aab48" stroke-width="0.6" letter-spacing="2.2439999999999984" textLength="276.10" lengthAdjust="spacingAndGlyphs">TEMPERATURE CHARACTERISTICS</text>
<text x="533.30" y="392.20" font-size="12.35" fill="#515254" stroke="#515254" stroke-width="0.4" letter-spacing="0.6" textLength="194.30" lengthAdjust="spacingAndGlyphs">Temperature Coefficients of Pmax</text>
<text x="902.90" y="392.20" font-size="12.35" fill="#515254" text-anchor="middle" stroke="#515254" stroke-width="0.4" letter-spacing="0.6" textLength="59.00" lengthAdjust="spacingAndGlyphs">-0.29%/°C</text>
<rect x="525.20" y="399.15" width="446.80" height="23.65" fill="#e6e7e8"/>
<text x="533.30" y="415.85" font-size="12.35" fill="#515254" stroke="#515254" stroke-width="0.4" letter-spacing="0.6" textLength="181.80" lengthAdjust="spacingAndGlyphs">Temperature Coefficients of Voc</text>
<text x="902.90" y="415.85" font-size="12.35" fill="#515254" text-anchor="middle" stroke="#515254" stroke-width="0.4" letter-spacing="0.6" textLength="59.00" lengthAdjust="spacingAndGlyphs">-0.25%/°C</text>
<text x="533.30" y="439.50" font-size="12.35" fill="#515254" stroke="#515254" stroke-width="0.4" letter-spacing="0.6" textLength="178.70" lengthAdjust="spacingAndGlyphs">Temperature Coefficients of Isc</text>
<text x="902.90" y="439.50" font-size="12.35" fill="#515254" text-anchor="middle" stroke="#515254" stroke-width="0.4" letter-spacing="0.6" textLength="61.00" lengthAdjust="spacingAndGlyphs">0.045%/°C</text>
<rect x="525.20" y="446.45" width="446.80" height="23.65" fill="#e6e7e8"/>
<text x="533.30" y="463.15" font-size="12.35" fill="#515254" stroke="#515254" stroke-width="0.4" letter-spacing="0.6" textLength="253.30" lengthAdjust="spacingAndGlyphs">Nominal Operating Cell Temperature (NOCT)</text>
<text x="902.90" y="463.15" font-size="12.35" fill="#515254" text-anchor="middle" stroke="#515254" stroke-width="0.4" letter-spacing="0.6" textLength="41.30" lengthAdjust="spacingAndGlyphs">45±2°C</text>
<text x="533.30" y="486.80" font-size="12.35" fill="#515254" stroke="#515254" stroke-width="0.4" letter-spacing="0.6" textLength="82.20" lengthAdjust="spacingAndGlyphs">Bifacial Factor</text>
<text x="902.90" y="486.80" font-size="12.35" fill="#515254" text-anchor="middle" stroke="#515254" stroke-width="0.4" letter-spacing="0.6" textLength="37.80" lengthAdjust="spacingAndGlyphs">80±5%</text>
<line x1="520.00" y1="498.90" x2="972.00" y2="498.90" stroke="#8a8a8c" stroke-width="1.4"/>
<text x="525.80" y="532.50" font-size="29.80" fill="#2aab48" stroke="#2aab48" stroke-width="0.6" letter-spacing="2.46" textLength="190.20" lengthAdjust="spacingAndGlyphs">MAXIMUM RATINGS</text>
<text x="533.80" y="559.50" font-size="16.42" fill="#515254" stroke="#515254" stroke-width="0.4" letter-spacing="0.79" textLength="188.00" lengthAdjust="spacingAndGlyphs">Operating Temperature (°C)</text>
<text x="977.60" y="559.50" font-size="16.42" fill="#515254" text-anchor="middle" stroke="#515254" stroke-width="0.4" letter-spacing="0.79" textLength="89.40" lengthAdjust="spacingAndGlyphs">-40°C~+85°C</text>
<rect x="524.60" y="567.90" width="518.40" height="27.90" fill="#e6e7e8"/>
<text x="533.80" y="587.50" font-size="16.42" fill="#515254" stroke="#515254" stroke-width="0.4" letter-spacing="0.79" textLength="173.80" lengthAdjust="spacingAndGlyphs">Maximum System Voltage</text>
<text x="977.60" y="587.50" font-size="16.42" fill="#515254" text-anchor="middle" stroke="#515254" stroke-width="0.4" letter-spacing="0.79" textLength="59.80" lengthAdjust="spacingAndGlyphs">1500VDC</text>
<text x="533.80" y="615.50" font-size="16.42" fill="#515254" stroke="#515254" stroke-width="0.4" letter-spacing="0.79" textLength="197.00" lengthAdjust="spacingAndGlyphs">Maximum Series Fuse Rating</text>
<text x="977.60" y="615.50" font-size="16.42" fill="#515254" text-anchor="middle" stroke="#515254" stroke-width="0.4" letter-spacing="0.79" textLength="25.00" lengthAdjust="spacingAndGlyphs">30A</text>
<text x="524.10" y="656.60" font-size="31.54" fill="#2aab48" stroke="#2aab48" stroke-width="0.6" letter-spacing="2.6040000000000054" textLength="117.30" lengthAdjust="spacingAndGlyphs">WARRANTY</text>
<text x="524.00" y="686.20" font-size="19.77" fill="#555658" stroke="#555658" stroke-width="0.45" letter-spacing="0.95" textLength="463.80" lengthAdjust="spacingAndGlyphs">12-year product and 30-year linear power warranty</text>
<text x="524" y="715.8" font-size="15.99" fill="#555658" stroke="#555658" stroke-width="0.4" letter-spacing="0.77" textLength="481" lengthAdjust="spacingAndGlyphs">1<tspan font-size="10.17" dy="-5">st</tspan><tspan dy="5"> year degradation not to exceed 1%, each subsequent year not to</tspan></text>
<text x="524.00" y="735.00" font-size="15.99" fill="#555658" stroke="#555658" stroke-width="0.4" letter-spacing="0.77" textLength="434.70" lengthAdjust="spacingAndGlyphs">exceed 0.4%, minimum power at year 30 is 87.4% or greater.</text>
<line x1="953.00" y1="750.40" x2="1029.00" y2="750.40" stroke="#b0b0b0" stroke-width="1"/>
<text x="100.80" y="774.00" font-size="20.93" fill="#2aab48" stroke="#2aab48" stroke-width="0.6" letter-spacing="1.7279999999999973" textLength="221.50" lengthAdjust="spacingAndGlyphs">ELECTRICAL CHARACTERISTICS</text>
<text x="103.60" y="789.80" font-size="11.34" fill="#5a5b5d" stroke="#5a5b5d" stroke-width="0.45" letter-spacing="0.55" textLength="61.00" lengthAdjust="spacingAndGlyphs">Module Type</text>
<rect x="97.70" y="796.90" width="832.70" height="20.10" fill="#e6e7e8"/>
<text x="103.60" y="830.00" font-size="11.34" fill="#5a5b5d" stroke="#5a5b5d" stroke-width="0.45" letter-spacing="0.55" textLength="119.30" lengthAdjust="spacingAndGlyphs">Maximum Power (Pmax)</text>
<rect x="97.70" y="837.10" width="832.70" height="20.10" fill="#e6e7e8"/>
<text x="103.60" y="850.10" font-size="11.34" fill="#5a5b5d" stroke="#5a5b5d" stroke-width="0.45" letter-spacing="0.55" textLength="152.00" lengthAdjust="spacingAndGlyphs">Maximum Power Voltage (Vmp)</text>
<text x="103.60" y="870.20" font-size="11.34" fill="#5a5b5d" stroke="#5a5b5d" stroke-width="0.45" letter-spacing="0.55" textLength="151.20" lengthAdjust="spacingAndGlyphs">Maximum Power Current (Imp)</text>
<rect x="97.70" y="877.30" width="832.70" height="20.10" fill="#e6e7e8"/>
<text x="103.60" y="890.30" font-size="11.34" fill="#5a5b5d" stroke="#5a5b5d" stroke-width="0.45" letter-spacing="0.55" textLength="127.80" lengthAdjust="spacingAndGlyphs">Open-circuit Voltage (Voc)</text>
<text x="103.60" y="910.40" font-size="11.34" fill="#5a5b5d" stroke="#5a5b5d" stroke-width="0.45" letter-spacing="0.55" textLength="128.60" lengthAdjust="spacingAndGlyphs">Short-circuit Current (Isc)</text>
<rect x="97.70" y="917.50" width="832.70" height="20.10" fill="#e6e7e8"/>
<text x="103.60" y="930.50" font-size="11.34" fill="#5a5b5d" stroke="#5a5b5d" stroke-width="0.45" letter-spacing="0.55" textLength="127.00" lengthAdjust="spacingAndGlyphs">Module Efficiency STC (%)</text>
<text x="347.50" y="789.80" font-size="11.34" fill="#5a5b5d" text-anchor="middle" stroke="#5a5b5d" stroke-width="0.45" letter-spacing="0.55" textLength="109.40" lengthAdjust="spacingAndGlyphs">JKM580N-72HL4-BDV</text>
<text x="316.40" y="809.90" font-size="11.34" fill="#5a5b5d" text-anchor="middle" stroke="#5a5b5d" stroke-width="0.45" letter-spacing="0.55" textLength="18.30" lengthAdjust="spacingAndGlyphs">STC</text>
<text x="381.10" y="809.90" font-size="11.34" fill="#5a5b5d" text-anchor="middle" stroke="#5a5b5d" stroke-width="0.45" letter-spacing="0.55" textLength="30.70" lengthAdjust="spacingAndGlyphs">NOCT</text>
<text x="316.40" y="830.00" font-size="11.34" fill="#5a5b5d" text-anchor="middle" stroke="#5a5b5d" stroke-width="0.45" letter-spacing="0.55" textLength="32.40" lengthAdjust="spacingAndGlyphs">580Wp</text>
<text x="381.10" y="830.00" font-size="11.34" fill="#5a5b5d" text-anchor="middle" stroke="#5a5b5d" stroke-width="0.45" letter-spacing="0.55" textLength="32.40" lengthAdjust="spacingAndGlyphs">437Wp</text>
<text x="316.40" y="850.10" font-size="11.34" fill="#5a5b5d" text-anchor="middle" stroke="#5a5b5d" stroke-width="0.45" letter-spacing="0.55" textLength="34.00" lengthAdjust="spacingAndGlyphs">43.88V</text>
<text x="381.10" y="850.10" font-size="11.34" fill="#5a5b5d" text-anchor="middle" stroke="#5a5b5d" stroke-width="0.45" letter-spacing="0.55" textLength="34.00" lengthAdjust="spacingAndGlyphs">40.89V</text>
<text x="316.40" y="870.20" font-size="11.34" fill="#5a5b5d" text-anchor="middle" stroke="#5a5b5d" stroke-width="0.45" letter-spacing="0.55" textLength="34.00" lengthAdjust="spacingAndGlyphs">13.22A</text>
<text x="381.10" y="870.20" font-size="11.34" fill="#5a5b5d" text-anchor="middle" stroke="#5a5b5d" stroke-width="0.45" letter-spacing="0.55" textLength="34.00" lengthAdjust="spacingAndGlyphs">10.69A</text>
<text x="316.40" y="890.30" font-size="11.34" fill="#5a5b5d" text-anchor="middle" stroke="#5a5b5d" stroke-width="0.45" letter-spacing="0.55" textLength="34.00" lengthAdjust="spacingAndGlyphs">52.50V</text>
<text x="381.10" y="890.30" font-size="11.34" fill="#5a5b5d" text-anchor="middle" stroke="#5a5b5d" stroke-width="0.45" letter-spacing="0.55" textLength="34.00" lengthAdjust="spacingAndGlyphs">49.87V</text>
<text x="316.40" y="910.40" font-size="11.34" fill="#5a5b5d" text-anchor="middle" stroke="#5a5b5d" stroke-width="0.45" letter-spacing="0.55" textLength="34.00" lengthAdjust="spacingAndGlyphs">13.95A</text>
<text x="381.10" y="910.40" font-size="11.34" fill="#5a5b5d" text-anchor="middle" stroke="#5a5b5d" stroke-width="0.45" letter-spacing="0.55" textLength="34.00" lengthAdjust="spacingAndGlyphs">11.26A</text>
<text x="347.50" y="930.50" font-size="11.34" fill="#5a5b5d" text-anchor="middle" stroke="#5a5b5d" stroke-width="0.45" letter-spacing="0.55" textLength="35.30" lengthAdjust="spacingAndGlyphs">22.45%</text>
<text x="475.20" y="789.80" font-size="11.34" fill="#5a5b5d" text-anchor="middle" stroke="#5a5b5d" stroke-width="0.45" letter-spacing="0.55" textLength="109.40" lengthAdjust="spacingAndGlyphs">JKM585N-72HL4-BDV</text>
<text x="443.30" y="809.90" font-size="11.34" fill="#5a5b5d" text-anchor="middle" stroke="#5a5b5d" stroke-width="0.45" letter-spacing="0.55" textLength="18.30" lengthAdjust="spacingAndGlyphs">STC</text>
<text x="507.20" y="809.90" font-size="11.34" fill="#5a5b5d" text-anchor="middle" stroke="#5a5b5d" stroke-width="0.45" letter-spacing="0.55" textLength="30.70" lengthAdjust="spacingAndGlyphs">NOCT</text>
<text x="443.30" y="830.00" font-size="11.34" fill="#5a5b5d" text-anchor="middle" stroke="#5a5b5d" stroke-width="0.45" letter-spacing="0.55" textLength="32.40" lengthAdjust="spacingAndGlyphs">585Wp</text>
<text x="507.20" y="830.00" font-size="11.34" fill="#5a5b5d" text-anchor="middle" stroke="#5a5b5d" stroke-width="0.45" letter-spacing="0.55" textLength="32.40" lengthAdjust="spacingAndGlyphs">441Wp</text>
<text x="443.30" y="850.10" font-size="11.34" fill="#5a5b5d" text-anchor="middle" stroke="#5a5b5d" stroke-width="0.45" letter-spacing="0.55" textLength="34.00" lengthAdjust="spacingAndGlyphs">44.02V</text>
<text x="507.20" y="850.10" font-size="11.34" fill="#5a5b5d" text-anchor="middle" stroke="#5a5b5d" stroke-width="0.45" letter-spacing="0.55" textLength="34.00" lengthAdjust="spacingAndGlyphs">41.05V</text>
<text x="443.30" y="870.20" font-size="11.34" fill="#5a5b5d" text-anchor="middle" stroke="#5a5b5d" stroke-width="0.45" letter-spacing="0.55" textLength="34.00" lengthAdjust="spacingAndGlyphs">13.29A</text>
<text x="507.20" y="870.20" font-size="11.34" fill="#5a5b5d" text-anchor="middle" stroke="#5a5b5d" stroke-width="0.45" letter-spacing="0.55" textLength="34.00" lengthAdjust="spacingAndGlyphs">10.74A</text>
<text x="443.30" y="890.30" font-size="11.34" fill="#5a5b5d" text-anchor="middle" stroke="#5a5b5d" stroke-width="0.45" letter-spacing="0.55" textLength="34.00" lengthAdjust="spacingAndGlyphs">52.70V</text>
<text x="507.20" y="890.30" font-size="11.34" fill="#5a5b5d" text-anchor="middle" stroke="#5a5b5d" stroke-width="0.45" letter-spacing="0.55" textLength="34.00" lengthAdjust="spacingAndGlyphs">50.06V</text>
<text x="443.30" y="910.40" font-size="11.34" fill="#5a5b5d" text-anchor="middle" stroke="#5a5b5d" stroke-width="0.45" letter-spacing="0.55" textLength="34.00" lengthAdjust="spacingAndGlyphs">14.01A</text>
<text x="507.20" y="910.40" font-size="11.34" fill="#5a5b5d" text-anchor="middle" stroke="#5a5b5d" stroke-width="0.45" letter-spacing="0.55" textLength="34.00" lengthAdjust="spacingAndGlyphs">11.31A</text>
<text x="475.20" y="930.50" font-size="11.34" fill="#5a5b5d" text-anchor="middle" stroke="#5a5b5d" stroke-width="0.45" letter-spacing="0.55" textLength="35.30" lengthAdjust="spacingAndGlyphs">22.65%</text>
<text x="602.80" y="789.80" font-size="11.34" fill="#5a5b5d" text-anchor="middle" stroke="#5a5b5d" stroke-width="0.45" letter-spacing="0.55" textLength="109.40" lengthAdjust="spacingAndGlyphs">JKM590N-72HL4-BDV</text>
<text x="571.80" y="809.90" font-size="11.34" fill="#5a5b5d" text-anchor="middle" stroke="#5a5b5d" stroke-width="0.45" letter-spacing="0.55" textLength="18.30" lengthAdjust="spacingAndGlyphs">STC</text>
<text x="634.70" y="809.90" font-size="11.34" fill="#5a5b5d" text-anchor="middle" stroke="#5a5b5d" stroke-width="0.45" letter-spacing="0.55" textLength="30.70" lengthAdjust="spacingAndGlyphs">NOCT</text>
<text x="571.80" y="830.00" font-size="11.34" fill="#5a5b5d" text-anchor="middle" stroke="#5a5b5d" stroke-width="0.45" letter-spacing="0.55" textLength="32.40" lengthAdjust="spacingAndGlyphs">590Wp</text>
<text x="634.70" y="830.00" font-size="11.34" fill="#5a5b5d" text-anchor="middle" stroke="#5a5b5d" stroke-width="0.45" letter-spacing="0.55" textLength="32.40" lengthAdjust="spacingAndGlyphs">445Wp</text>
<text x="571.80" y="850.10" font-size="11.34" fill="#5a5b5d" text-anchor="middle" stroke="#5a5b5d" stroke-width="0.45" letter-spacing="0.55" textLength="34.00" lengthAdjust="spacingAndGlyphs">44.17V</text>
<text x="634.70" y="850.10" font-size="11.34" fill="#5a5b5d" text-anchor="middle" stroke="#5a5b5d" stroke-width="0.45" letter-spacing="0.55" textLength="34.00" lengthAdjust="spacingAndGlyphs">41.21V</text>
<text x="571.80" y="870.20" font-size="11.34" fill="#5a5b5d" text-anchor="middle" stroke="#5a5b5d" stroke-width="0.45" letter-spacing="0.55" textLength="34.00" lengthAdjust="spacingAndGlyphs">13.36A</text>
<text x="634.70" y="870.20" font-size="11.34" fill="#5a5b5d" text-anchor="middle" stroke="#5a5b5d" stroke-width="0.45" letter-spacing="0.55" textLength="34.00" lengthAdjust="spacingAndGlyphs">10.79A</text>
<text x="571.80" y="890.30" font-size="11.34" fill="#5a5b5d" text-anchor="middle" stroke="#5a5b5d" stroke-width="0.45" letter-spacing="0.55" textLength="34.00" lengthAdjust="spacingAndGlyphs">52.90V</text>
<text x="634.70" y="890.30" font-size="11.34" fill="#5a5b5d" text-anchor="middle" stroke="#5a5b5d" stroke-width="0.45" letter-spacing="0.55" textLength="34.00" lengthAdjust="spacingAndGlyphs">50.25V</text>
<text x="571.80" y="910.40" font-size="11.34" fill="#5a5b5d" text-anchor="middle" stroke="#5a5b5d" stroke-width="0.45" letter-spacing="0.55" textLength="34.00" lengthAdjust="spacingAndGlyphs">14.07A</text>
<text x="634.70" y="910.40" font-size="11.34" fill="#5a5b5d" text-anchor="middle" stroke="#5a5b5d" stroke-width="0.45" letter-spacing="0.55" textLength="34.00" lengthAdjust="spacingAndGlyphs">11.36A</text>
<text x="602.80" y="930.50" font-size="11.34" fill="#5a5b5d" text-anchor="middle" stroke="#5a5b5d" stroke-width="0.45" letter-spacing="0.55" textLength="35.30" lengthAdjust="spacingAndGlyphs">22.84%</text>
<text x="733.00" y="789.80" font-size="11.34" fill="#5a5b5d" text-anchor="middle" stroke="#5a5b5d" stroke-width="0.45" letter-spacing="0.55" textLength="109.40" lengthAdjust="spacingAndGlyphs">JKM595N-72HL4-BDV</text>
<text x="697.20" y="809.90" font-size="11.34" fill="#5a5b5d" text-anchor="middle" stroke="#5a5b5d" stroke-width="0.45" letter-spacing="0.55" textLength="18.30" lengthAdjust="spacingAndGlyphs">STC</text>
<text x="763.70" y="809.90" font-size="11.34" fill="#5a5b5d" text-anchor="middle" stroke="#5a5b5d" stroke-width="0.45" letter-spacing="0.55" textLength="30.70" lengthAdjust="spacingAndGlyphs">NOCT</text>
<text x="697.20" y="830.00" font-size="11.34" fill="#5a5b5d" text-anchor="middle" stroke="#5a5b5d" stroke-width="0.45" letter-spacing="0.55" textLength="32.40" lengthAdjust="spacingAndGlyphs">595Wp</text>
<text x="763.70" y="830.00" font-size="11.34" fill="#5a5b5d" text-anchor="middle" stroke="#5a5b5d" stroke-width="0.45" letter-spacing="0.55" textLength="32.40" lengthAdjust="spacingAndGlyphs">448Wp</text>
<text x="697.20" y="850.10" font-size="11.34" fill="#5a5b5d" text-anchor="middle" stroke="#5a5b5d" stroke-width="0.45" letter-spacing="0.55" textLength="34.00" lengthAdjust="spacingAndGlyphs">44.31V</text>
<text x="763.70" y="850.10" font-size="11.34" fill="#5a5b5d" text-anchor="middle" stroke="#5a5b5d" stroke-width="0.45" letter-spacing="0.55" textLength="34.00" lengthAdjust="spacingAndGlyphs">41.36V</text>
<text x="697.20" y="870.20" font-size="11.34" fill="#5a5b5d" text-anchor="middle" stroke="#5a5b5d" stroke-width="0.45" letter-spacing="0.55" textLength="34.00" lengthAdjust="spacingAndGlyphs">13.43A</text>
<text x="763.70" y="870.20" font-size="11.34" fill="#5a5b5d" text-anchor="middle" stroke="#5a5b5d" stroke-width="0.45" letter-spacing="0.55" textLength="34.00" lengthAdjust="spacingAndGlyphs">10.84A</text>
<text x="697.20" y="890.30" font-size="11.34" fill="#5a5b5d" text-anchor="middle" stroke="#5a5b5d" stroke-width="0.45" letter-spacing="0.55" textLength="34.00" lengthAdjust="spacingAndGlyphs">53.10V</text>
<text x="763.70" y="890.30" font-size="11.34" fill="#5a5b5d" text-anchor="middle" stroke="#5a5b5d" stroke-width="0.45" letter-spacing="0.55" textLength="34.00" lengthAdjust="spacingAndGlyphs">50.44V</text>
<text x="697.20" y="910.40" font-size="11.34" fill="#5a5b5d" text-anchor="middle" stroke="#5a5b5d" stroke-width="0.45" letter-spacing="0.55" textLength="34.00" lengthAdjust="spacingAndGlyphs">14.13A</text>
<text x="763.70" y="910.40" font-size="11.34" fill="#5a5b5d" text-anchor="middle" stroke="#5a5b5d" stroke-width="0.45" letter-spacing="0.55" textLength="34.00" lengthAdjust="spacingAndGlyphs">11.41A</text>
<text x="733.00" y="930.50" font-size="11.34" fill="#5a5b5d" text-anchor="middle" stroke="#5a5b5d" stroke-width="0.45" letter-spacing="0.55" textLength="35.30" lengthAdjust="spacingAndGlyphs">23.03%</text>
<text x="864.30" y="789.80" font-size="11.34" fill="#5a5b5d" text-anchor="middle" stroke="#5a5b5d" stroke-width="0.45" letter-spacing="0.55" textLength="109.40" lengthAdjust="spacingAndGlyphs">JKM600N-72HL4-BDV</text>
<text x="828.60" y="809.90" font-size="11.34" fill="#5a5b5d" text-anchor="middle" stroke="#5a5b5d" stroke-width="0.45" letter-spacing="0.55" textLength="18.30" lengthAdjust="spacingAndGlyphs">STC</text>
<text x="894.30" y="809.90" font-size="11.34" fill="#5a5b5d" text-anchor="middle" stroke="#5a5b5d" stroke-width="0.45" letter-spacing="0.55" textLength="30.70" lengthAdjust="spacingAndGlyphs">NOCT</text>
<text x="828.60" y="830.00" font-size="11.34" fill="#5a5b5d" text-anchor="middle" stroke="#5a5b5d" stroke-width="0.45" letter-spacing="0.55" textLength="32.40" lengthAdjust="spacingAndGlyphs">600Wp</text>
<text x="894.30" y="830.00" font-size="11.34" fill="#5a5b5d" text-anchor="middle" stroke="#5a5b5d" stroke-width="0.45" letter-spacing="0.55" textLength="32.40" lengthAdjust="spacingAndGlyphs">452Wp</text>
<text x="828.60" y="850.10" font-size="11.34" fill="#5a5b5d" text-anchor="middle" stroke="#5a5b5d" stroke-width="0.45" letter-spacing="0.55" textLength="34.00" lengthAdjust="spacingAndGlyphs">44.45V</text>
<text x="894.30" y="850.10" font-size="11.34" fill="#5a5b5d" text-anchor="middle" stroke="#5a5b5d" stroke-width="0.45" letter-spacing="0.55" textLength="34.00" lengthAdjust="spacingAndGlyphs">41.52V</text>
<text x="828.60" y="870.20" font-size="11.34" fill="#5a5b5d" text-anchor="middle" stroke="#5a5b5d" stroke-width="0.45" letter-spacing="0.55" textLength="34.00" lengthAdjust="spacingAndGlyphs">13.50A</text>
<text x="894.30" y="870.20" font-size="11.34" fill="#5a5b5d" text-anchor="middle" stroke="#5a5b5d" stroke-width="0.45" letter-spacing="0.55" textLength="34.00" lengthAdjust="spacingAndGlyphs">10.89A</text>
<text x="828.60" y="890.30" font-size="11.34" fill="#5a5b5d" text-anchor="middle" stroke="#5a5b5d" stroke-width="0.45" letter-spacing="0.55" textLength="34.00" lengthAdjust="spacingAndGlyphs">53.30V</text>
<text x="894.30" y="890.30" font-size="11.34" fill="#5a5b5d" text-anchor="middle" stroke="#5a5b5d" stroke-width="0.45" letter-spacing="0.55" textLength="34.00" lengthAdjust="spacingAndGlyphs">50.63V</text>
<text x="828.60" y="910.40" font-size="11.34" fill="#5a5b5d" text-anchor="middle" stroke="#5a5b5d" stroke-width="0.45" letter-spacing="0.55" textLength="34.00" lengthAdjust="spacingAndGlyphs">14.19A</text>
<text x="894.30" y="910.40" font-size="11.34" fill="#5a5b5d" text-anchor="middle" stroke="#5a5b5d" stroke-width="0.45" letter-spacing="0.55" textLength="34.00" lengthAdjust="spacingAndGlyphs">11.45A</text>
<text x="864.30" y="930.50" font-size="11.34" fill="#5a5b5d" text-anchor="middle" stroke="#5a5b5d" stroke-width="0.45" letter-spacing="0.55" textLength="35.30" lengthAdjust="spacingAndGlyphs">23.23%</text>
<line x1="97.70" y1="944.80" x2="937.00" y2="944.80" stroke="#8a8a8c" stroke-width="1.5"/>
<text x="97.80" y="968.40" font-size="13.08" fill="#515254" font-weight="bold" stroke="#515254" stroke-width="0.4" letter-spacing="0.63" textLength="35.50" lengthAdjust="spacingAndGlyphs">*STC:</text>
<text x="97.80" y="984.00" font-size="13.08" fill="#515254" font-weight="bold" stroke="#515254" stroke-width="0.4" letter-spacing="0.63" textLength="37.80" lengthAdjust="spacingAndGlyphs">NOCT:</text>
<text x="157.80" y="968.40" font-size="13.08" fill="#68696b" stroke="#68696b" stroke-width="0.12" letter-spacing="0.63" textLength="129.00" lengthAdjust="spacingAndGlyphs">Irradiance 1000W/m²</text>
<text x="157.80" y="984.00" font-size="13.08" fill="#68696b" stroke="#68696b" stroke-width="0.12" letter-spacing="0.63" textLength="122.00" lengthAdjust="spacingAndGlyphs">Irradiance 800W/m²</text>
<text x="328.40" y="968.30" font-size="13.08" fill="#68696b" stroke="#68696b" stroke-width="0.12" letter-spacing="0.63" textLength="139.40" lengthAdjust="spacingAndGlyphs">Cell Temperature 25°C</text>
<text x="328.40" y="984.60" font-size="13.08" fill="#68696b" stroke="#68696b" stroke-width="0.12" letter-spacing="0.63" textLength="166.60" lengthAdjust="spacingAndGlyphs">Ambient Temperature 20°C</text>
<text x="553.75" y="967.50" font-size="13.08" fill="#68696b" stroke="#68696b" stroke-width="0.12" letter-spacing="0.63" textLength="50.75" lengthAdjust="spacingAndGlyphs">AM = 1.5</text>
<text x="553.75" y="983.00" font-size="13.08" fill="#68696b" stroke="#68696b" stroke-width="0.12" letter-spacing="0.63" textLength="50.75" lengthAdjust="spacingAndGlyphs">AM = 1.5</text>
<text x="657.00" y="982.00" font-size="13.08" fill="#68696b" stroke="#68696b" stroke-width="0.12" letter-spacing="0.63" textLength="105.00" lengthAdjust="spacingAndGlyphs">Wind Speed 1m/s</text>
<text x="97.80" y="1007.80" font-size="10.17" fill="#68696b" stroke="#68696b" stroke-width="0.12" letter-spacing="0.49" textLength="182.00" lengthAdjust="spacingAndGlyphs">*Power measurement tolerance: ±3%</text>
<line x1="97.30" y1="1016.80" x2="929.60" y2="1016.80" stroke="#8a8a8c" stroke-width="1.5"/>
<text x="98.30" y="1036.70" font-size="10.47" fill="#68696b" font-style="italic" stroke="#68696b" stroke-width="0.1" letter-spacing="0.5" textLength="626.70" lengthAdjust="spacingAndGlyphs">The company reserves the final right for explanation on any of the information presented hereby. JKM580-600N-72HL4-BDV-F30R-F2-US</text>
<text x="100.30" y="1068.50" font-size="18.90" fill="#353537" font-weight="bold" letter-spacing="1.0" textLength="194.70" lengthAdjust="spacingAndGlyphs">BUILDING YOUR TRUST IN SOLAR.</text>
<text x="300.90" y="1068.50" font-size="18.90" fill="#2aab48" font-weight="bold" letter-spacing="1.0" textLength="129.10" lengthAdjust="spacingAndGlyphs">WWW.JINKOSOLAR.US</text>
<circle cx="147.0" cy="964.8" r="3.9" fill="#939598"/>
<line x1="152.30" y1="964.80" x2="154.40" y2="964.80" stroke="#b9babc" stroke-width="1.0"/>
<line x1="150.75" y1="968.55" x2="152.23" y2="970.03" stroke="#b9babc" stroke-width="1.0"/>
<line x1="147.00" y1="970.10" x2="147.00" y2="972.20" stroke="#b9babc" stroke-width="1.0"/>
<line x1="143.25" y1="968.55" x2="141.77" y2="970.03" stroke="#b9babc" stroke-width="1.0"/>
<line x1="141.70" y1="964.80" x2="139.60" y2="964.80" stroke="#b9babc" stroke-width="1.0"/>
<line x1="143.25" y1="961.05" x2="141.77" y2="959.57" stroke="#b9babc" stroke-width="1.0"/>
<line x1="147.00" y1="959.50" x2="147.00" y2="957.40" stroke="#b9babc" stroke-width="1.0"/>
<line x1="150.75" y1="961.05" x2="152.23" y2="959.57" stroke="#b9babc" stroke-width="1.0"/>
<circle cx="147.0" cy="980.5" r="3.9" fill="#939598"/>
<line x1="152.30" y1="980.50" x2="154.40" y2="980.50" stroke="#b9babc" stroke-width="1.0"/>
<line x1="150.75" y1="984.25" x2="152.23" y2="985.73" stroke="#b9babc" stroke-width="1.0"/>
<line x1="147.00" y1="985.80" x2="147.00" y2="987.90" stroke="#b9babc" stroke-width="1.0"/>
<line x1="143.25" y1="984.25" x2="141.77" y2="985.73" stroke="#b9babc" stroke-width="1.0"/>
<line x1="141.70" y1="980.50" x2="139.60" y2="980.50" stroke="#b9babc" stroke-width="1.0"/>
<line x1="143.25" y1="976.75" x2="141.77" y2="975.27" stroke="#b9babc" stroke-width="1.0"/>
<line x1="147.00" y1="975.20" x2="147.00" y2="973.10" stroke="#b9babc" stroke-width="1.0"/>
<line x1="150.75" y1="976.75" x2="152.23" y2="975.27" stroke="#b9babc" stroke-width="1.0"/>
<rect x="315.70" y="956.30" width="4.2" height="11.10" rx="2.1" fill="#f2f2f2" stroke="#b9babc" stroke-width="0.9"/>
<circle cx="317.8" cy="967.4" r="3.1" fill="#d9d9da" stroke="#b9babc" stroke-width="0.9"/>
<line x1="317.8" y1="959.80" x2="317.8" y2="967.40" stroke="#a3a4a6" stroke-width="1.3"/>
<circle cx="317.8" cy="967.4" r="1.8" fill="#9c9d9f"/>
<rect x="315.70" y="972.90" width="4.2" height="11.50" rx="2.1" fill="#f2f2f2" stroke="#b9babc" stroke-width="0.9"/>
<circle cx="317.8" cy="984.4" r="3.1" fill="#d9d9da" stroke="#b9babc" stroke-width="0.9"/>
<line x1="317.8" y1="976.40" x2="317.8" y2="984.40" stroke="#a3a4a6" stroke-width="1.3"/>
<circle cx="317.8" cy="984.4" r="1.8" fill="#9c9d9f"/>
<path transform="translate(522.3,955.0)" d="M12,10.8 H20.8 A2.5,2.5 0 0 0 22.1,6.2 A2.6,2.6 0 0 0 17.3,3.5 A3.8,3.8 0 0 0 9.5,4.8 Z" fill="#fff" stroke="#9fa1a4" stroke-width="1.25"/>
<path transform="translate(522.3,955.0)" d="M4.2,14.6 H14.5 A3.2,3.2 0 0 0 14.9,8.2 A5.1,5.1 0 0 0 5.0,7.5 A3.6,3.6 0 0 0 4.2,14.6 Z" fill="#fff" stroke="#939598" stroke-width="1.5"/>
<path transform="translate(522.3,972.0)" d="M12,10.8 H20.8 A2.5,2.5 0 0 0 22.1,6.2 A2.6,2.6 0 0 0 17.3,3.5 A3.8,3.8 0 0 0 9.5,4.8 Z" fill="#fff" stroke="#9fa1a4" stroke-width="1.25"/>
<path transform="translate(522.3,972.0)" d="M4.2,14.6 H14.5 A3.2,3.2 0 0 0 14.9,8.2 A5.1,5.1 0 0 0 5.0,7.5 A3.6,3.6 0 0 0 4.2,14.6 Z" fill="#fff" stroke="#939598" stroke-width="1.5"/>
<path d="M628.9,972.6 H639.2 M637.4,972.4 A1.6,1.6 0 1 1 639.9,972.0" fill="none" stroke="#a7a9ac" stroke-width="1.1" stroke-linecap="round"/>
<path d="M628.9,976.1 H646.0 A2.9,2.9 0 1 0 643.4,973.0" fill="none" stroke="#a7a9ac" stroke-width="1.7" stroke-linecap="round"/>
<path d="M636.1,980.2 H650.6 A2.6,2.6 0 1 1 648.3,982.4" fill="none" stroke="#a7a9ac" stroke-width="1.3" stroke-linecap="round"/>
<path d="M636.1,983.1 H640.2" fill="none" stroke="#a7a9ac" stroke-width="1.0" stroke-linecap="round"/>
<g fill="#20a43b" transform="translate(0,1078.6) skewX(-10.4) translate(0,-1078.6)"><path d="M825.8,1054.9 H832.6 V1070.5 Q832.6,1078.6 823.5,1078.6 H817.8 Q823.6,1077.2 825.0,1073.2 Q825.8,1071 825.8,1068 Z"/><rect x="836.0" y="1061.0" width="6.3" height="17.6"/><path d="M846.0,1078.6 V1061 H851.8 V1062.6 Q854.6,1059.7 859.6,1059.7 Q864.8,1059.7 864.8,1065.6 V1078.6 H858.1 V1067.4 Q858.1,1065.2 855.9,1065.2 Q852,1065.2 852,1068.4 V1078.6 Z"/><rect x="867.8" y="1054.9" width="6.7" height="23.7"/><path d="M874.2,1067 L883.2,1054.9 H890.6 L880.6,1067 L894.7,1078.6 H887.3 Z"/></g>
<path fill="#20a43b" fill-rule="evenodd" d="M892.7,1066.7 A12.3,12.05 0 1 0 917.3,1066.7 A12.3,12.05 0 1 0 892.7,1066.7 Z M898.2,1066.6 A6.4,6.2 0 1 0 911.0,1066.6 A6.4,6.2 0 1 0 898.2,1066.6 Z"/>
<ellipse cx="821.2" cy="1072.2" rx="4.1" ry="3.8" fill="#20a43b" stroke="#fff" stroke-width="0.8"/>
<ellipse cx="843.4" cy="1055.2" rx="3.4" ry="3.0" fill="#20a43b"/>
<text x="896.2" y="1051.4" font-family="Liberation Serif" font-size="20.93" font-style="italic" fill="#77c043" stroke="#77c043" stroke-width="0.3" textLength="45.5" lengthAdjust="spacingAndGlyphs">Solar</text>
</svg>
</body></html>
